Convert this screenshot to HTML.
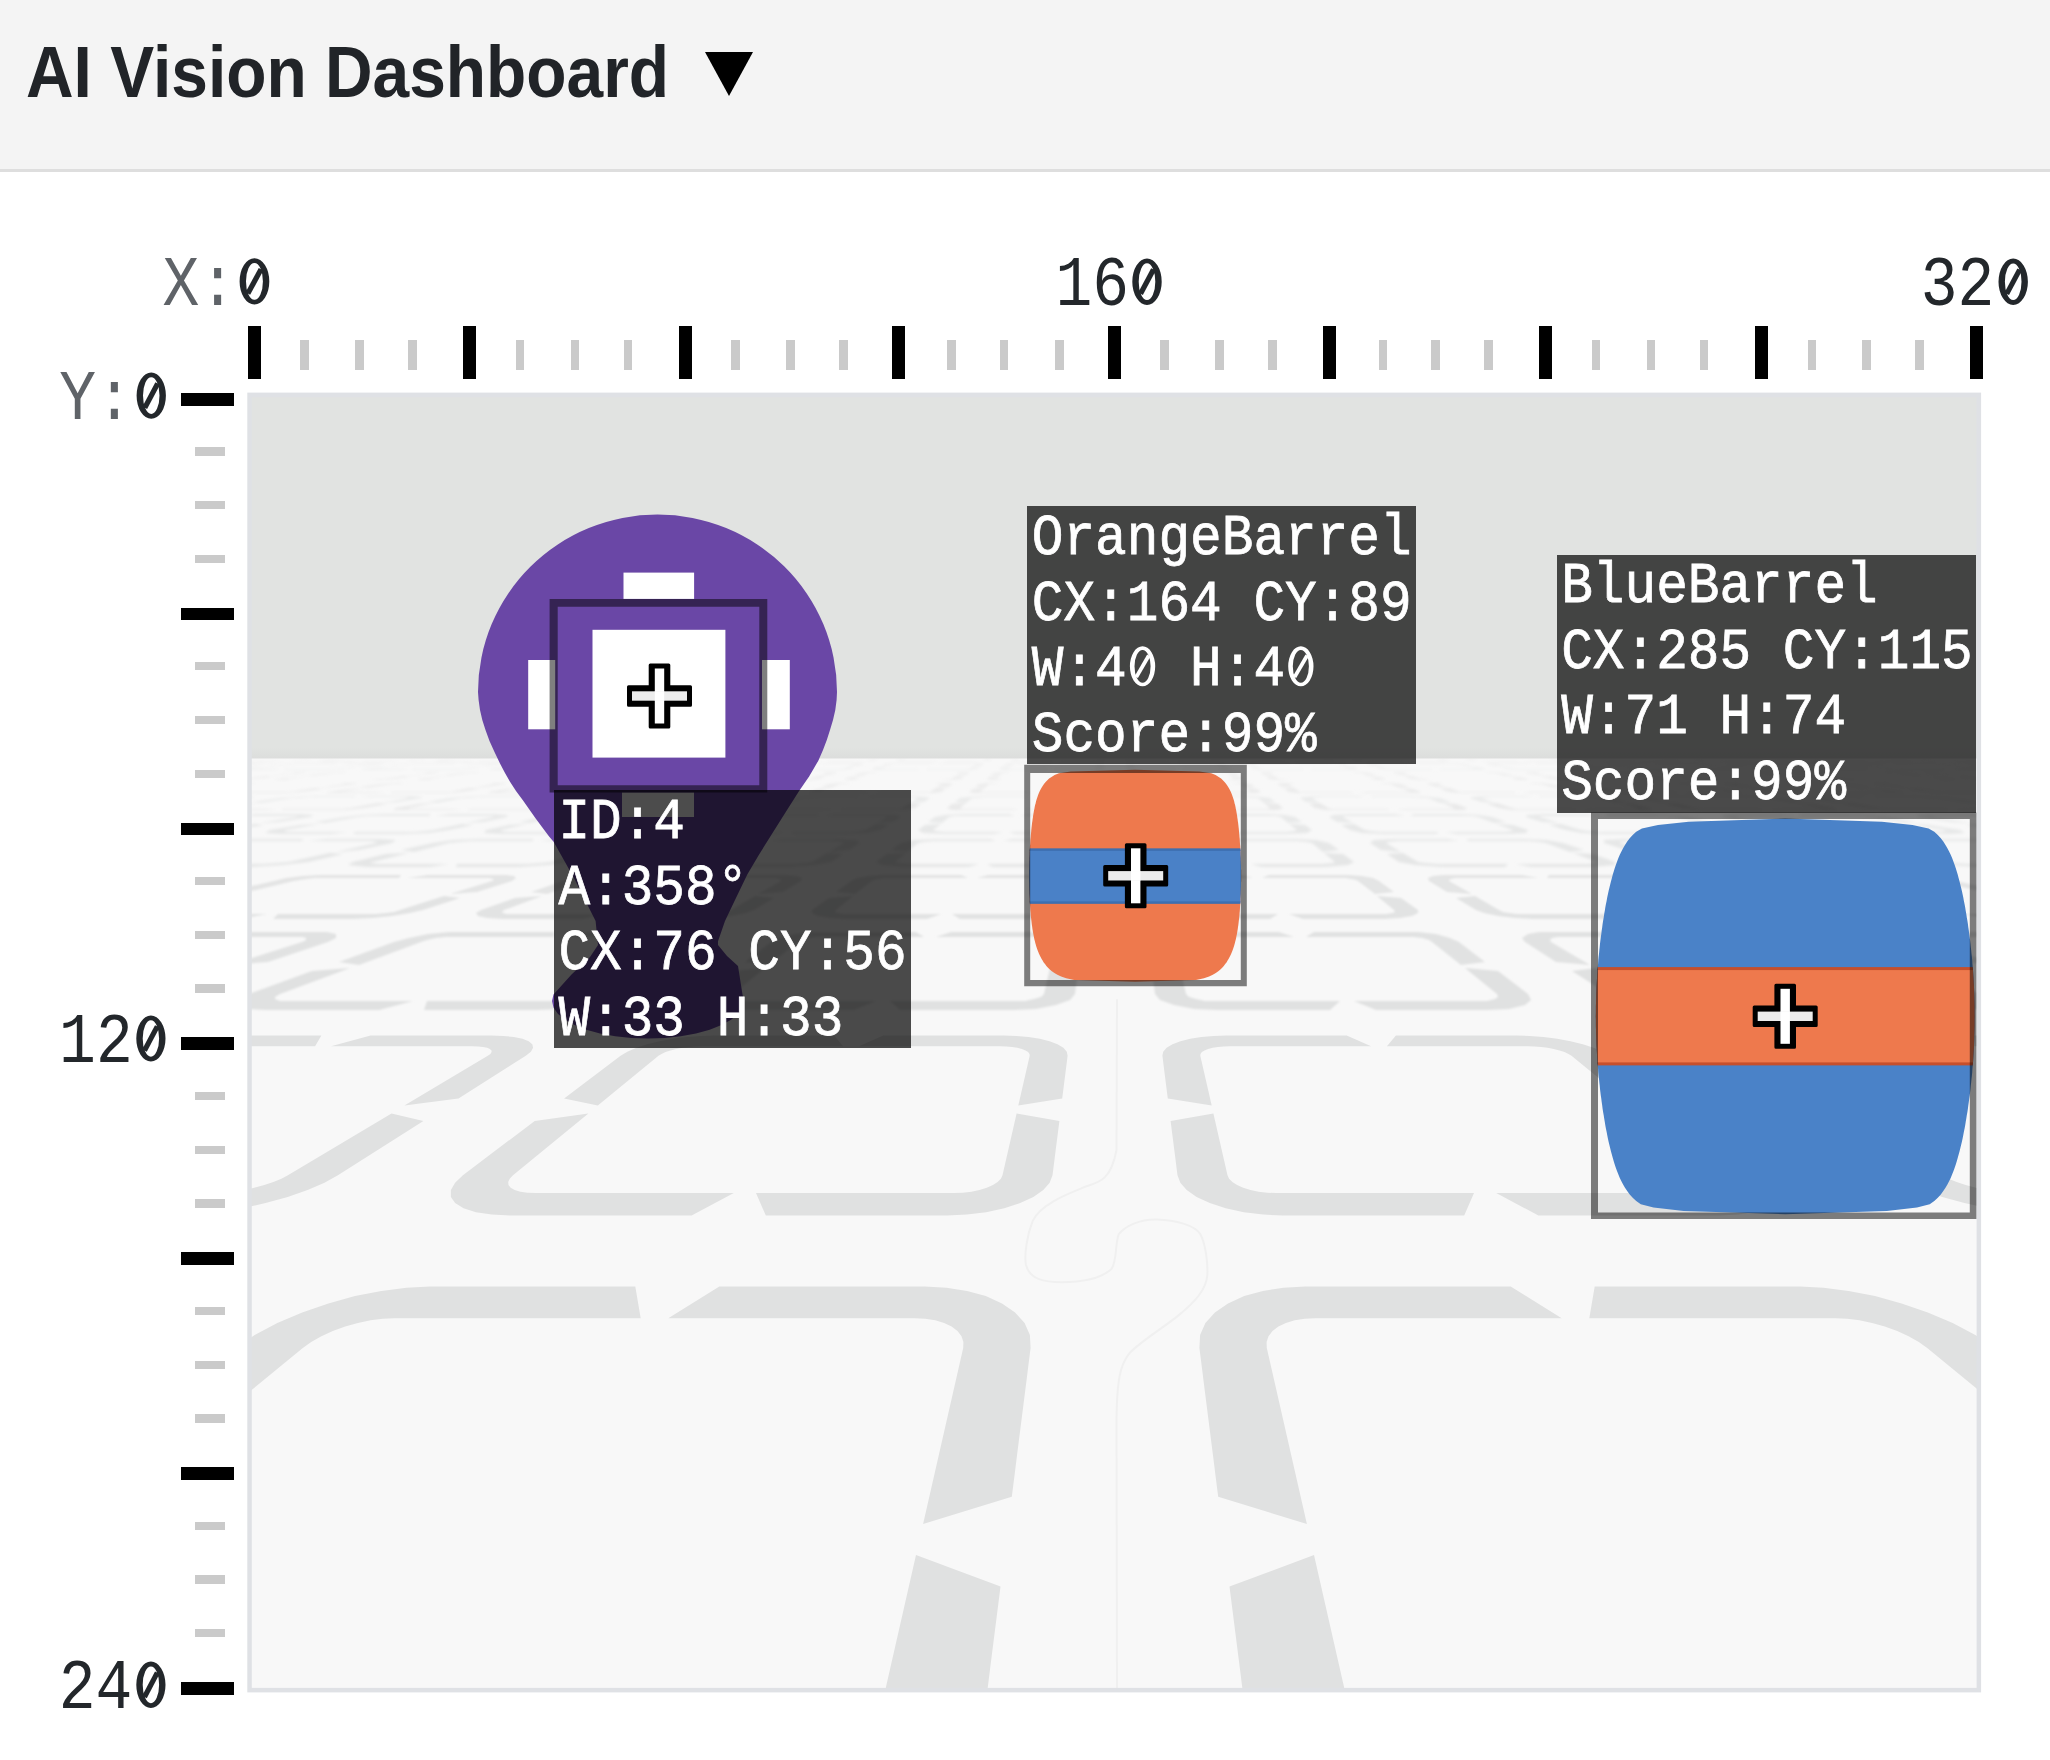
<!DOCTYPE html>
<html><head><meta charset="utf-8">
<style>
html,body{margin:0;padding:0;width:2050px;height:1760px;overflow:hidden;background:#fff;}
*{box-sizing:border-box;}
.hdr{position:absolute;left:0;top:0;width:2050px;height:172px;background:#f4f4f4;border-bottom:3px solid #dedede;}
.title{position:absolute;left:25.5px;top:31px;font:bold 72px "Liberation Sans",sans-serif;color:#212428;white-space:nowrap;transform:scaleX(0.915);transform-origin:0 0;}
.tri{position:absolute;left:705px;top:52px;width:0;height:0;border-left:24px solid transparent;border-right:24px solid transparent;border-top:44px solid #000;}
.ax{position:absolute;font:61.3px/61.3px "Liberation Mono",monospace;color:#23272b;white-space:nowrap;transform:scaleY(1.16);transform-origin:0 0;}
.ax .g{color:#5f6368;}
.z{color:transparent;-webkit-text-stroke:0 transparent;}
.tk{position:absolute;background:#000;}
.ts{position:absolute;background:#cacaca;}
svg.scene{position:absolute;left:0;top:0;}
.lb{position:absolute;background:rgba(0,0,0,0.7);}
.lt{position:absolute;font:52.75px/59.5px "Liberation Mono",monospace;color:#fff;white-space:pre;transform:scaleY(1.1);transform-origin:0 0;-webkit-text-stroke:0.7px #fff;}
</style></head><body>
<div class="hdr"></div>
<div class="title">AI Vision Dashboard</div>
<div class="tri"></div>
<div class="tk" style="left:247.6px;top:326.3px;width:13.1px;height:52.7px"></div>
<div class="tk" style="left:463.1px;top:326.3px;width:13.1px;height:52.7px"></div>
<div class="tk" style="left:678.7px;top:326.3px;width:13.1px;height:52.7px"></div>
<div class="tk" style="left:892.0px;top:326.3px;width:13.1px;height:52.7px"></div>
<div class="tk" style="left:1107.6px;top:326.3px;width:13.1px;height:52.7px"></div>
<div class="tk" style="left:1323.3px;top:326.3px;width:13.1px;height:52.7px"></div>
<div class="tk" style="left:1538.9px;top:326.3px;width:13.1px;height:52.7px"></div>
<div class="tk" style="left:1754.6px;top:326.3px;width:13.1px;height:52.7px"></div>
<div class="tk" style="left:1970.2px;top:326.3px;width:13.1px;height:52.7px"></div>
<div class="ts" style="left:300.2px;top:339.7px;width:8.6px;height:30.4px"></div>
<div class="ts" style="left:355.2px;top:339.7px;width:8.6px;height:30.4px"></div>
<div class="ts" style="left:408.0px;top:339.7px;width:8.6px;height:30.4px"></div>
<div class="ts" style="left:515.7px;top:339.7px;width:8.6px;height:30.4px"></div>
<div class="ts" style="left:570.9px;top:339.7px;width:8.6px;height:30.4px"></div>
<div class="ts" style="left:623.5px;top:339.7px;width:8.6px;height:30.4px"></div>
<div class="ts" style="left:731.3px;top:339.7px;width:8.6px;height:30.4px"></div>
<div class="ts" style="left:786.4px;top:339.7px;width:8.6px;height:30.4px"></div>
<div class="ts" style="left:839.2px;top:339.7px;width:8.6px;height:30.4px"></div>
<div class="ts" style="left:947.2px;top:339.7px;width:8.6px;height:30.4px"></div>
<div class="ts" style="left:999.8px;top:339.7px;width:8.6px;height:30.4px"></div>
<div class="ts" style="left:1055.0px;top:339.7px;width:8.6px;height:30.4px"></div>
<div class="ts" style="left:1160.3px;top:339.7px;width:8.6px;height:30.4px"></div>
<div class="ts" style="left:1215.4px;top:339.7px;width:8.6px;height:30.4px"></div>
<div class="ts" style="left:1268.1px;top:339.7px;width:8.6px;height:30.4px"></div>
<div class="ts" style="left:1378.5px;top:339.7px;width:8.6px;height:30.4px"></div>
<div class="ts" style="left:1431.1px;top:339.7px;width:8.6px;height:30.4px"></div>
<div class="ts" style="left:1484.0px;top:339.7px;width:8.6px;height:30.4px"></div>
<div class="ts" style="left:1591.7px;top:339.7px;width:8.6px;height:30.4px"></div>
<div class="ts" style="left:1646.7px;top:339.7px;width:8.6px;height:30.4px"></div>
<div class="ts" style="left:1699.5px;top:339.7px;width:8.6px;height:30.4px"></div>
<div class="ts" style="left:1807.6px;top:339.7px;width:8.6px;height:30.4px"></div>
<div class="ts" style="left:1862.4px;top:339.7px;width:8.6px;height:30.4px"></div>
<div class="ts" style="left:1915.4px;top:339.7px;width:8.6px;height:30.4px"></div>
<div class="tk" style="left:181.4px;top:392.7px;width:52.8px;height:12.9px"></div>
<div class="ts" style="left:194.6px;top:447.2px;width:30.8px;height:8.4px"></div>
<div class="ts" style="left:194.6px;top:500.9px;width:30.8px;height:8.4px"></div>
<div class="ts" style="left:194.6px;top:554.7px;width:30.8px;height:8.4px"></div>
<div class="tk" style="left:181.4px;top:607.6px;width:52.8px;height:12.9px"></div>
<div class="ts" style="left:194.6px;top:662.1px;width:30.8px;height:8.4px"></div>
<div class="ts" style="left:194.6px;top:715.8px;width:30.8px;height:8.4px"></div>
<div class="ts" style="left:194.6px;top:769.5px;width:30.8px;height:8.4px"></div>
<div class="tk" style="left:181.4px;top:822.5px;width:52.8px;height:12.9px"></div>
<div class="ts" style="left:194.6px;top:877.0px;width:30.8px;height:8.4px"></div>
<div class="ts" style="left:194.6px;top:930.7px;width:30.8px;height:8.4px"></div>
<div class="ts" style="left:194.6px;top:984.4px;width:30.8px;height:8.4px"></div>
<div class="tk" style="left:181.4px;top:1037.3px;width:52.8px;height:12.9px"></div>
<div class="ts" style="left:194.6px;top:1091.9px;width:30.8px;height:8.4px"></div>
<div class="ts" style="left:194.6px;top:1145.6px;width:30.8px;height:8.4px"></div>
<div class="ts" style="left:194.6px;top:1199.3px;width:30.8px;height:8.4px"></div>
<div class="tk" style="left:181.4px;top:1252.2px;width:52.8px;height:12.9px"></div>
<div class="ts" style="left:194.6px;top:1306.7px;width:30.8px;height:8.4px"></div>
<div class="ts" style="left:194.6px;top:1360.5px;width:30.8px;height:8.4px"></div>
<div class="ts" style="left:194.6px;top:1414.2px;width:30.8px;height:8.4px"></div>
<div class="tk" style="left:181.4px;top:1467.1px;width:52.8px;height:12.9px"></div>
<div class="ts" style="left:194.6px;top:1521.6px;width:30.8px;height:8.4px"></div>
<div class="ts" style="left:194.6px;top:1575.3px;width:30.8px;height:8.4px"></div>
<div class="ts" style="left:194.6px;top:1629.1px;width:30.8px;height:8.4px"></div>
<div class="tk" style="left:181.4px;top:1682.0px;width:52.8px;height:12.9px"></div>
<div class="ax" style="left:162.5px;top:249.8px"><span class="g">X:</span><span class="z">0</span></div>
<div class="ax" style="left:1055.4px;top:249.8px">16<span class="z">0</span></div>
<div class="ax" style="left:1920.8px;top:249.8px">32<span class="z">0</span></div>
<div class="ax" style="left:59.3px;top:363.6px"><span class="g">Y:</span><span class="z">0</span></div>
<div class="ax" style="left:59.1px;top:1006.8px">12<span class="z">0</span></div>
<div class="ax" style="left:58.8px;top:1652.9px">24<span class="z">0</span></div>
<svg class="scene" width="2050" height="1760" viewBox="0 0 2050 1760">
<defs>
<filter id="fb1" x="-5%" y="-5%" width="110%" height="110%"><feGaussianBlur stdDeviation="0.9"/></filter>
<filter id="fb2" x="-5%" y="-5%" width="110%" height="110%"><feGaussianBlur stdDeviation="1.4"/></filter>
<linearGradient id="wg" x1="0" y1="0" x2="0" y2="1"><stop offset="0" stop-color="#e1e3e1"/><stop offset="0.97" stop-color="#e1e3e1"/><stop offset="1" stop-color="#dcdddc"/></linearGradient>
<clipPath id="ic"><rect x="250" y="395" width="1728.5" height="1295"/></clipPath>
<clipPath id="ob"><path id="obp" d="M1135.1,769.8 L1199.4,771.6 L1211.3,773.3 L1215.6,775.1 L1218.7,776.9 L1221.1,778.6 L1223.1,780.4 L1224.8,782.2 L1226.2,783.9 L1227.4,785.7 L1228.5,787.5 L1229.5,789.2 L1230.4,791 L1231.2,792.8 L1231.9,794.5 L1232.5,796.3 L1233.1,798.1 L1233.7,799.8 L1234.2,801.6 L1234.6,803.4 L1235.1,805.1 L1235.5,806.9 L1235.8,808.7 L1236.2,810.4 L1236.5,812.2 L1236.8,814 L1237.1,815.7 L1237.3,817.5 L1237.6,819.3 L1237.8,821 L1238.1,822.8 L1238.3,824.6 L1238.5,826.3 L1238.7,828.1 L1238.9,829.9 L1239,831.6 L1239.2,833.4 L1239.4,835.2 L1239.5,836.9 L1239.7,838.7 L1239.8,840.5 L1239.9,842.2 L1240,844 L1240.2,845.8 L1240.3,847.5 L1240.4,849.3 L1240.5,851.1 L1240.6,852.8 L1240.6,854.6 L1240.7,856.4 L1240.8,858.1 L1240.8,859.9 L1240.9,861.7 L1240.9,863.4 L1241,865.2 L1241,867 L1241,868.7 L1241.1,870.5 L1241.1,872.3 L1241.1,874 L1241.1,875.8 L1241.1,877.6 L1241.1,879.3 L1241.1,881.1 L1241,882.9 L1241,884.6 L1241,886.4 L1240.9,888.2 L1240.9,889.9 L1240.8,891.7 L1240.8,893.5 L1240.7,895.2 L1240.6,897 L1240.5,898.8 L1240.5,900.5 L1240.4,902.3 L1240.3,904.1 L1240.1,905.8 L1240,907.6 L1239.9,909.4 L1239.8,911.1 L1239.6,912.9 L1239.5,914.7 L1239.3,916.4 L1239.1,918.2 L1238.9,920 L1238.7,921.7 L1238.5,923.5 L1238.3,925.3 L1238,927 L1237.8,928.8 L1237.5,930.6 L1237.2,932.3 L1236.9,934.1 L1236.5,935.9 L1236.2,937.6 L1235.8,939.4 L1235.3,941.2 L1234.9,942.9 L1234.4,944.7 L1233.9,946.5 L1233.3,948.2 L1232.7,950 L1232,951.8 L1231.3,953.5 L1230.5,955.3 L1229.6,957.1 L1228.7,958.8 L1227.6,960.6 L1226.5,962.4 L1225.2,964.1 L1223.8,965.9 L1222.2,967.7 L1220.4,969.4 L1218.3,971.2 L1215.8,973 L1212.8,974.7 L1209.1,976.5 L1204,978.3 L1196,980 L1135.1,981.8 L1135.1,981.8 L1074.2,980 L1066.2,978.3 L1061.1,976.5 L1057.4,974.7 L1054.4,973 L1051.9,971.2 L1049.8,969.4 L1048,967.7 L1046.4,965.9 L1045,964.1 L1043.7,962.4 L1042.6,960.6 L1041.5,958.8 L1040.6,957.1 L1039.7,955.3 L1038.9,953.5 L1038.2,951.8 L1037.5,950 L1036.9,948.2 L1036.3,946.5 L1035.8,944.7 L1035.3,942.9 L1034.9,941.2 L1034.4,939.4 L1034,937.6 L1033.7,935.9 L1033.3,934.1 L1033,932.3 L1032.7,930.6 L1032.4,928.8 L1032.2,927 L1031.9,925.3 L1031.7,923.5 L1031.5,921.7 L1031.3,920 L1031.1,918.2 L1030.9,916.4 L1030.7,914.7 L1030.6,912.9 L1030.4,911.1 L1030.3,909.4 L1030.2,907.6 L1030.1,905.8 L1029.9,904.1 L1029.8,902.3 L1029.7,900.5 L1029.7,898.8 L1029.6,897 L1029.5,895.2 L1029.4,893.5 L1029.4,891.7 L1029.3,889.9 L1029.3,888.2 L1029.2,886.4 L1029.2,884.6 L1029.2,882.9 L1029.1,881.1 L1029.1,879.3 L1029.1,877.6 L1029.1,875.8 L1029.1,874 L1029.1,872.3 L1029.1,870.5 L1029.2,868.7 L1029.2,867 L1029.2,865.2 L1029.3,863.4 L1029.3,861.7 L1029.4,859.9 L1029.4,858.1 L1029.5,856.4 L1029.6,854.6 L1029.6,852.8 L1029.7,851.1 L1029.8,849.3 L1029.9,847.5 L1030,845.8 L1030.2,844 L1030.3,842.2 L1030.4,840.5 L1030.5,838.7 L1030.7,836.9 L1030.8,835.2 L1031,833.4 L1031.2,831.6 L1031.3,829.9 L1031.5,828.1 L1031.7,826.3 L1031.9,824.6 L1032.1,822.8 L1032.4,821 L1032.6,819.3 L1032.9,817.5 L1033.1,815.7 L1033.4,814 L1033.7,812.2 L1034,810.4 L1034.4,808.7 L1034.7,806.9 L1035.1,805.1 L1035.6,803.4 L1036,801.6 L1036.5,799.8 L1037.1,798.1 L1037.7,796.3 L1038.3,794.5 L1039,792.8 L1039.8,791 L1040.7,789.2 L1041.7,787.5 L1042.8,785.7 L1044,783.9 L1045.4,782.2 L1047.1,780.4 L1049.1,778.6 L1051.5,776.9 L1054.6,775.1 L1058.9,773.3 L1070.8,771.6 L1135.1,769.8Z"/></clipPath>
<clipPath id="bb"><path id="bbp" d="M1785.2,818.5 L1881.9,821.8 L1912.5,825.1 L1928.6,828.4 L1934.3,831.7 L1937.8,835 L1940.8,838.3 L1943.3,841.6 L1945.5,844.9 L1947.4,848.2 L1949.1,851.5 L1950.7,854.8 L1952.1,858.1 L1953.4,861.4 L1954.6,864.7 L1955.7,868 L1956.7,871.3 L1957.7,874.6 L1958.6,877.9 L1959.5,881.2 L1960.3,884.5 L1961.1,887.7 L1961.9,891 L1962.6,894.3 L1963.3,897.6 L1963.9,900.9 L1964.6,904.2 L1965.2,907.5 L1965.7,910.8 L1966.3,914.1 L1966.8,917.4 L1967.4,920.7 L1967.9,924 L1968.3,927.3 L1968.8,930.6 L1969.2,933.9 L1969.7,937.2 L1970.1,940.5 L1970.5,943.8 L1970.8,947.1 L1971.2,950.4 L1971.5,953.7 L1971.9,957 L1972.2,960.3 L1972.4,963.6 L1972.7,966.9 L1973,970.2 L1973.2,973.5 L1973.4,976.8 L1973.6,980.1 L1973.8,983.4 L1974,986.7 L1974.1,990 L1974.2,993.3 L1974.3,996.6 L1974.4,999.9 L1974.5,1003.2 L1974.6,1006.5 L1974.6,1009.8 L1974.6,1013.1 L1974.7,1016.4 L1974.6,1019.6 L1974.6,1022.9 L1974.6,1026.2 L1974.5,1029.5 L1974.4,1032.8 L1974.3,1036.1 L1974.2,1039.4 L1974.1,1042.7 L1974,1046 L1973.8,1049.3 L1973.6,1052.6 L1973.4,1055.9 L1973.2,1059.2 L1973,1062.5 L1972.7,1065.8 L1972.4,1069.1 L1972.2,1072.4 L1971.9,1075.7 L1971.5,1079 L1971.2,1082.3 L1970.8,1085.6 L1970.5,1088.9 L1970.1,1092.2 L1969.7,1095.5 L1969.2,1098.8 L1968.8,1102.1 L1968.3,1105.4 L1967.9,1108.7 L1967.4,1112 L1966.8,1115.3 L1966.3,1118.6 L1965.7,1121.9 L1965.2,1125.2 L1964.6,1128.5 L1963.9,1131.8 L1963.3,1135.1 L1962.6,1138.4 L1961.9,1141.7 L1961.1,1145 L1960.3,1148.2 L1959.5,1151.5 L1958.6,1154.8 L1957.7,1158.1 L1956.7,1161.4 L1955.7,1164.7 L1954.6,1168 L1953.4,1171.3 L1952.1,1174.6 L1950.7,1177.9 L1949.1,1181.2 L1947.4,1184.5 L1945.5,1187.8 L1943.3,1191.1 L1940.8,1194.4 L1937.8,1197.7 L1934.3,1201 L1929.7,1204.3 L1917,1207.6 L1886.8,1210.9 L1785.2,1214.2 L1785.2,1214.2 L1683.7,1210.9 L1653.5,1207.6 L1640.8,1204.3 L1636.2,1201 L1632.7,1197.7 L1629.7,1194.4 L1627.2,1191.1 L1625,1187.8 L1623.1,1184.5 L1621.4,1181.2 L1619.8,1177.9 L1618.4,1174.6 L1617.1,1171.3 L1615.9,1168 L1614.8,1164.7 L1613.8,1161.4 L1612.8,1158.1 L1611.9,1154.8 L1611,1151.5 L1610.2,1148.2 L1609.4,1145 L1608.6,1141.7 L1607.9,1138.4 L1607.2,1135.1 L1606.6,1131.8 L1605.9,1128.5 L1605.3,1125.2 L1604.8,1121.9 L1604.2,1118.6 L1603.7,1115.3 L1603.1,1112 L1602.6,1108.7 L1602.2,1105.4 L1601.7,1102.1 L1601.3,1098.8 L1600.8,1095.5 L1600.4,1092.2 L1600,1088.9 L1599.7,1085.6 L1599.3,1082.3 L1599,1079 L1598.6,1075.7 L1598.3,1072.4 L1598.1,1069.1 L1597.8,1065.8 L1597.5,1062.5 L1597.3,1059.2 L1597.1,1055.9 L1596.9,1052.6 L1596.7,1049.3 L1596.5,1046 L1596.4,1042.7 L1596.3,1039.4 L1596.2,1036.1 L1596.1,1032.8 L1596,1029.5 L1595.9,1026.2 L1595.9,1022.9 L1595.9,1019.6 L1595.8,1016.4 L1595.9,1013.1 L1595.9,1009.8 L1595.9,1006.5 L1596,1003.2 L1596.1,999.9 L1596.2,996.6 L1596.3,993.3 L1596.4,990 L1596.5,986.7 L1596.7,983.4 L1596.9,980.1 L1597.1,976.8 L1597.3,973.5 L1597.5,970.2 L1597.8,966.9 L1598.1,963.6 L1598.3,960.3 L1598.6,957 L1599,953.7 L1599.3,950.4 L1599.7,947.1 L1600,943.8 L1600.4,940.5 L1600.8,937.2 L1601.3,933.9 L1601.7,930.6 L1602.2,927.3 L1602.6,924 L1603.1,920.7 L1603.7,917.4 L1604.2,914.1 L1604.8,910.8 L1605.3,907.5 L1605.9,904.2 L1606.6,900.9 L1607.2,897.6 L1607.9,894.3 L1608.6,891 L1609.4,887.7 L1610.2,884.5 L1611,881.2 L1611.9,877.9 L1612.8,874.6 L1613.8,871.3 L1614.8,868 L1615.9,864.7 L1617.1,861.4 L1618.4,858.1 L1619.8,854.8 L1621.4,851.5 L1623.1,848.2 L1625,844.9 L1627.2,841.6 L1629.7,838.3 L1632.7,835 L1636.2,831.7 L1641.9,828.4 L1658,825.1 L1688.6,821.8 L1785.2,818.5Z"/></clipPath>
</defs>
<g clip-path="url(#ic)">
<rect x="251" y="396" width="1727" height="1293" fill="#f8f8f8"/>
<g fill="#e0e1e1">
<path fill-opacity="1.00" d="M1000.5,1586.5 967.0,1851.6 957.3,1893.6 938.2,1937.0 909.6,1979.9 872.0,2019.9 826.6,2054.6 775.4,2081.7 721.3,2098.8 667.5,2104.7 185.0,2104.7 221.1,1956.2 714.1,1956.2 736.4,1954.0 758.9,1947.6 780.6,1937.3 800.6,1923.7 817.9,1907.5 831.9,1889.5 842.2,1870.6 848.5,1851.6 916.0,1555.1ZM1229.5,1586.5 1263.0,1851.6 1272.7,1893.6 1291.8,1937.0 1320.4,1979.9 1358.0,2019.9 1403.4,2054.6 1454.6,2081.7 1508.7,2098.8 1562.5,2104.7 2045.0,2104.7 2008.9,1956.2 1515.9,1956.2 1493.6,1954.0 1471.1,1947.6 1449.4,1937.3 1429.4,1923.7 1412.1,1907.5 1398.1,1889.5 1387.8,1870.6 1381.5,1851.6 1314.0,1555.1Z"/>
<path fill-opacity="1.00" d="M1011.8,1496.8 1030.6,1348.0 1029.9,1335.0 1024.6,1323.1 1015.1,1312.4 1002.0,1303.4 985.8,1296.1 967.1,1290.9 946.5,1287.7 924.6,1286.6 719.3,1286.6 668.3,1318.2 914.7,1318.2 925.3,1318.7 935.2,1320.3 944.1,1323.0 951.6,1326.6 957.5,1331.1 961.5,1336.2 963.4,1341.9 963.2,1348.0 923.1,1524.1ZM39.1,1496.8 235.3,1348.0 254.7,1335.0 277.3,1323.1 302.2,1312.4 328.4,1303.4 355.0,1296.1 381.3,1290.9 406.6,1287.7 430.0,1286.6 635.3,1286.6 640.7,1318.2 394.3,1318.2 382.9,1318.7 370.6,1320.3 357.9,1323.0 345.2,1326.6 332.8,1331.1 321.4,1336.2 311.2,1341.9 302.8,1348.0 88.4,1524.1ZM2190.9,1496.8 1994.7,1348.0 1975.3,1335.0 1952.7,1323.1 1927.8,1312.4 1901.6,1303.4 1875.0,1296.1 1848.7,1290.9 1823.4,1287.7 1800.0,1286.6 1594.7,1286.6 1589.3,1318.2 1835.7,1318.2 1847.1,1318.7 1859.4,1320.3 1872.1,1323.0 1884.8,1326.6 1897.2,1331.1 1908.6,1336.2 1918.8,1341.9 1927.2,1348.0 2141.6,1524.1ZM1218.2,1496.8 1199.4,1348.0 1200.1,1335.0 1205.4,1323.1 1214.9,1312.4 1228.0,1303.4 1244.2,1296.1 1262.9,1290.9 1283.5,1287.7 1305.4,1286.6 1510.7,1286.6 1561.7,1318.2 1315.3,1318.2 1304.7,1318.7 1294.8,1320.3 1285.9,1323.0 1278.4,1326.6 1272.5,1331.1 1268.5,1336.2 1266.6,1341.9 1266.8,1348.0 1306.9,1524.1Z"/>
<path fill-opacity="1.00" d="M423.4,1120.9 337.9,1175.3 324.5,1182.7 307.6,1190.0 287.7,1196.9 265.6,1203.1 242.1,1208.3 218.3,1212.2 195.4,1214.6 174.4,1215.5 -6.8,1215.5 15.7,1193.1 213.7,1193.1 223.0,1192.7 233.2,1191.7 243.7,1190.0 254.2,1187.8 264.3,1185.0 273.4,1182.0 281.4,1178.7 287.9,1175.3 391.5,1113.4ZM534.7,1120.9 462.9,1175.3 455.1,1182.7 450.9,1190.0 450.9,1196.9 455.1,1203.1 463.5,1208.3 475.9,1212.2 491.8,1214.6 510.4,1215.5 691.6,1215.5 733.8,1193.1 535.8,1193.1 527.5,1192.7 520.4,1191.7 514.7,1190.0 510.7,1187.8 508.5,1185.0 508.2,1182.0 509.7,1178.7 513.0,1175.3 588.4,1113.4ZM1059.4,1120.9 1052.5,1175.3 1049.7,1182.7 1043.3,1190.0 1033.4,1196.9 1020.2,1203.1 1004.3,1208.3 986.2,1212.2 966.8,1214.6 947.0,1215.5 765.8,1215.5 756.0,1193.1 954.0,1193.1 962.8,1192.7 971.4,1191.7 979.5,1190.0 986.8,1187.8 992.9,1185.0 997.6,1182.0 1000.9,1178.7 1002.5,1175.3 1016.6,1113.4ZM1170.6,1120.9 1177.5,1175.3 1180.3,1182.7 1186.7,1190.0 1196.6,1196.9 1209.8,1203.1 1225.7,1208.3 1243.8,1212.2 1263.2,1214.6 1283.0,1215.5 1464.2,1215.5 1474.0,1193.1 1276.0,1193.1 1267.2,1192.7 1258.6,1191.7 1250.5,1190.0 1243.2,1187.8 1237.1,1185.0 1232.4,1182.0 1229.1,1178.7 1227.5,1175.3 1213.4,1113.4ZM1695.3,1120.9 1767.1,1175.3 1774.9,1182.7 1779.1,1190.0 1779.1,1196.9 1774.9,1203.1 1766.5,1208.3 1754.1,1212.2 1738.2,1214.6 1719.6,1215.5 1538.4,1215.5 1496.2,1193.1 1694.2,1193.1 1702.5,1192.7 1709.6,1191.7 1715.3,1190.0 1719.3,1187.8 1721.5,1185.0 1721.8,1182.0 1720.3,1178.7 1717.0,1175.3 1641.6,1113.4ZM1806.6,1120.9 1892.1,1175.3 1905.5,1182.7 1922.4,1190.0 1942.3,1196.9 1964.4,1203.1 1987.9,1208.3 2011.7,1212.2 2034.6,1214.6 2055.6,1215.5 2236.8,1215.5 2214.3,1193.1 2016.3,1193.1 2007.0,1192.7 1996.8,1191.7 1986.3,1190.0 1975.8,1187.8 1965.7,1185.0 1956.6,1182.0 1948.6,1178.7 1942.1,1175.3 1838.5,1113.4Z"/>
<path fill-opacity="1.00" d="M458.5,1098.6 525.8,1055.8 530.9,1051.7 533.1,1047.8 532.3,1044.3 528.7,1041.3 522.5,1038.8 513.9,1037.0 503.2,1035.9 490.9,1035.6 370.6,1035.6 331.0,1046.2 472.2,1046.2 478.1,1046.4 483.1,1046.9 487.1,1047.8 489.9,1048.9 491.5,1050.4 491.6,1052.0 490.4,1053.9 487.8,1055.8 404.4,1105.6ZM-39.6,1098.6 78.7,1055.8 91.5,1051.7 106.1,1047.8 122.0,1044.3 138.7,1041.3 155.5,1038.8 171.8,1037.0 187.2,1035.9 201.2,1035.6 321.4,1035.6 315.1,1046.2 173.9,1046.2 167.3,1046.4 159.9,1046.9 152.2,1047.8 144.2,1048.9 136.4,1050.4 129.1,1052.0 122.4,1053.9 116.7,1055.8 -16.1,1105.6ZM1062.2,1098.6 1067.6,1055.8 1066.8,1051.7 1063.4,1047.8 1057.5,1044.3 1049.6,1041.3 1039.8,1038.8 1028.6,1037.0 1016.4,1035.9 1003.5,1035.6 883.3,1035.6 858.9,1046.2 1000.2,1046.2 1006.3,1046.4 1012.1,1046.9 1017.3,1047.8 1021.9,1048.9 1025.5,1050.4 1028.1,1052.0 1029.5,1053.9 1029.7,1055.8 1018.3,1105.6ZM564.1,1098.6 620.6,1055.8 627.3,1051.7 636.4,1047.8 647.2,1044.3 659.5,1041.3 672.8,1038.8 686.6,1037.0 700.4,1035.9 713.9,1035.6 834.1,1035.6 843.1,1046.2 701.9,1046.2 695.5,1046.4 688.9,1046.9 682.4,1047.8 676.2,1048.9 670.5,1050.4 665.5,1052.0 661.5,1053.9 658.5,1055.8 597.8,1105.6ZM1665.9,1098.6 1609.4,1055.8 1602.7,1051.7 1593.6,1047.8 1582.8,1044.3 1570.5,1041.3 1557.2,1038.8 1543.4,1037.0 1529.6,1035.9 1516.1,1035.6 1395.9,1035.6 1386.9,1046.2 1528.1,1046.2 1534.5,1046.4 1541.1,1046.9 1547.6,1047.8 1553.8,1048.9 1559.5,1050.4 1564.5,1052.0 1568.5,1053.9 1571.5,1055.8 1632.2,1105.6ZM1167.8,1098.6 1162.4,1055.8 1163.2,1051.7 1166.6,1047.8 1172.5,1044.3 1180.4,1041.3 1190.2,1038.8 1201.4,1037.0 1213.6,1035.9 1226.5,1035.6 1346.7,1035.6 1371.1,1046.2 1229.8,1046.2 1223.7,1046.4 1217.9,1046.9 1212.7,1047.8 1208.1,1048.9 1204.5,1050.4 1201.9,1052.0 1200.5,1053.9 1200.3,1055.8 1211.7,1105.6ZM2269.6,1098.6 2151.3,1055.8 2138.5,1051.7 2123.9,1047.8 2108.0,1044.3 2091.3,1041.3 2074.5,1038.8 2058.2,1037.0 2042.8,1035.9 2028.8,1035.6 1908.6,1035.6 1914.9,1046.2 2056.1,1046.2 2062.7,1046.4 2070.1,1046.9 2077.8,1047.8 2085.8,1048.9 2093.6,1050.4 2100.9,1052.0 2107.6,1053.9 2113.3,1055.8 2246.1,1105.6ZM1771.5,1098.6 1704.2,1055.8 1699.1,1051.7 1696.9,1047.8 1697.7,1044.3 1701.3,1041.3 1707.5,1038.8 1716.1,1037.0 1726.8,1035.9 1739.1,1035.6 1859.4,1035.6 1899.0,1046.2 1757.8,1046.2 1751.9,1046.4 1746.9,1046.9 1742.9,1047.8 1740.1,1048.9 1738.5,1050.4 1738.4,1052.0 1739.6,1053.9 1742.2,1055.8 1825.6,1105.6Z"/>
<g filter="url(#fb1)"><path fill-opacity="0.99" d="M312,971 249,994 237,1000 236,1005 247,1009 267,1010 379,1010 413,1001 289,1001 280,1001 275,999 275,997 280,994 350,968ZM658,971 622,994 609,1000 587,1005 562,1009 536,1010 424,1010 427,1001 551,1001 563,1001 574,999 584,997 591,994 634,968ZM732,971 702,994 699,1000 705,1005 721,1009 743,1010 854,1010 876,1001 753,1001 743,1001 735,999 732,997 733,994 765,968ZM1078,971 1075,994 1070,1000 1056,1005 1036,1009 1012,1010 900,1010 890,1001 1014,1001 1025,1001 1034,999 1041,997 1044,994 1050,968ZM1152,971 1155,994 1160,1000 1174,1005 1194,1009 1218,1010 1330,1010 1340,1001 1216,1001 1205,1001 1196,999 1189,997 1186,994 1180,968ZM1498,971 1528,994 1531,1000 1525,1005 1509,1009 1487,1010 1376,1010 1354,1001 1477,1001 1487,1001 1495,999 1498,997 1497,994 1465,968ZM1572,971 1608,994 1621,1000 1643,1005 1668,1009 1694,1010 1806,1010 1803,1001 1679,1001 1667,1001 1656,999 1646,997 1639,994 1596,968ZM1918,971 1981,994 1993,1000 1994,1005 1983,1009 1963,1010 1851,1010 1817,1001 1941,1001 1950,1001 1955,999 1955,997 1950,994 1880,968Z"/>
<path fill-opacity="0.92" d="M268,962 328,942 336,938 336,934 327,932 311,932 226,932 195,937 294,937 302,937 306,938 306,940 302,942 230,965ZM674,962 705,942 708,938 702,934 691,932 674,932 589,932 565,937 664,937 672,937 678,938 680,940 679,942 640,965ZM339,962 394,942 409,938 428,934 449,932 469,932 554,932 554,937 455,937 446,937 436,938 427,940 421,942 359,965ZM1079,962 1082,942 1079,938 1069,934 1054,932 1036,932 951,932 936,937 1035,937 1043,937 1050,938 1054,940 1056,942 1050,965ZM745,962 771,942 780,938 794,934 812,932 831,932 916,932 924,937 825,937 817,937 808,938 801,940 798,942 769,965ZM1485,962 1459,942 1450,938 1436,934 1418,932 1399,932 1314,932 1306,937 1405,937 1413,937 1422,938 1429,940 1432,942 1461,965ZM1151,962 1148,942 1151,938 1161,934 1176,932 1194,932 1279,932 1294,937 1195,937 1187,937 1180,938 1176,940 1174,942 1180,965ZM1891,962 1836,942 1821,938 1802,934 1781,932 1761,932 1676,932 1676,937 1775,937 1784,937 1794,938 1803,940 1809,942 1871,965ZM1556,962 1525,942 1522,938 1528,934 1539,932 1556,932 1641,932 1665,937 1566,937 1558,937 1552,938 1550,940 1551,942 1590,965ZM1962,962 1902,942 1894,938 1894,934 1903,932 1919,932 2004,932 2035,937 1936,937 1928,937 1924,938 1924,940 1928,942 2000,965Z"/>
<path fill-opacity="0.90" d="M202,898 149,910 140,913 138,916 145,918 159,919 240,919 267,914 177,914 171,914 168,913 168,912 173,910 231,896ZM460,898 423,910 410,913 392,916 372,918 353,919 273,919 278,914 368,914 376,914 386,913 394,912 400,910 444,896ZM515,898 481,910 476,913 478,916 487,918 503,919 583,919 604,914 514,914 507,914 503,913 502,912 504,910 542,896ZM774,898 754,910 746,913 732,916 715,918 697,919 616,919 615,914 705,914 713,914 721,913 727,912 731,910 755,896ZM829,898 812,910 812,913 818,916 830,918 846,919 927,919 941,914 851,914 844,914 838,913 835,912 836,910 853,896ZM1088,898 1086,910 1082,913 1072,916 1058,918 1040,919 960,919 952,914 1042,914 1050,914 1056,913 1061,912 1063,910 1066,896ZM1142,898 1144,910 1148,913 1158,916 1172,918 1190,919 1270,919 1278,914 1188,914 1180,914 1174,913 1169,912 1167,910 1164,896ZM1401,898 1418,910 1418,913 1412,916 1400,918 1384,919 1303,919 1289,914 1379,914 1386,914 1392,913 1395,912 1394,910 1377,896ZM1456,898 1476,910 1484,913 1498,916 1515,918 1533,919 1614,919 1615,914 1525,914 1517,914 1509,913 1503,912 1499,910 1475,896ZM1715,898 1749,910 1754,913 1752,916 1743,918 1727,919 1647,919 1626,914 1716,914 1723,914 1727,913 1728,912 1726,910 1688,896ZM1770,898 1807,910 1820,913 1838,916 1858,918 1877,919 1957,919 1952,914 1862,914 1854,914 1844,913 1836,912 1830,910 1786,896ZM2028,898 2081,910 2090,913 2092,916 2085,918 2071,919 1990,919 1963,914 2053,914 2059,914 2062,913 2062,912 2057,910 1999,896Z"/>
<path fill-opacity="0.83" d="M477,892 512,881 516,878 514,876 506,875 493,875 428,875 407,878 483,878 489,878 493,879 494,880 492,881 450,894ZM225,892 274,881 286,878 302,876 319,875 335,875 401,875 399,878 322,878 315,878 307,879 300,880 294,881 239,894ZM783,892 801,881 802,878 797,876 787,875 774,875 708,875 692,878 768,878 774,878 779,879 781,880 781,881 758,894ZM531,892 563,881 572,878 585,876 600,875 615,875 681,875 683,878 607,878 600,878 593,879 587,880 583,881 547,894ZM1088,892 1090,881 1087,878 1079,876 1068,875 1054,875 988,875 977,878 1053,878 1060,878 1065,879 1068,880 1070,881 1066,894ZM836,892 851,881 857,878 868,876 881,875 896,875 961,875 968,878 892,878 885,878 879,879 874,880 872,881 855,894ZM1394,892 1379,881 1373,878 1362,876 1349,875 1334,875 1269,875 1262,878 1338,878 1345,878 1351,879 1356,880 1358,881 1375,894ZM1142,892 1140,881 1143,878 1151,876 1162,875 1176,875 1242,875 1253,878 1177,878 1170,878 1165,879 1162,880 1160,881 1164,894ZM1699,892 1667,881 1658,878 1645,876 1630,875 1615,875 1549,875 1547,878 1623,878 1630,878 1637,879 1643,880 1647,881 1683,894ZM1447,892 1429,881 1428,878 1433,876 1443,875 1456,875 1522,875 1538,878 1462,878 1456,878 1451,879 1449,880 1449,881 1472,894ZM2005,892 1956,881 1944,878 1928,876 1911,875 1895,875 1829,875 1831,878 1908,878 1915,878 1923,879 1930,880 1936,881 1991,894ZM1753,892 1718,881 1714,878 1716,876 1724,875 1737,875 1802,875 1823,878 1747,878 1741,878 1737,879 1736,880 1738,881 1780,894Z"/></g>
<g filter="url(#fb2)"><path fill-opacity="0.81" d="M343,854 308,862 282,865 250,867 187,867 192,864 263,864 277,863 289,862 330,853ZM386,854 353,862 348,865 367,867 430,867 449,864 378,864 370,863 372,862 409,853ZM593,854 569,862 548,865 519,867 456,867 457,864 528,864 541,863 551,862 579,853ZM637,854 615,862 615,865 636,867 699,867 714,864 643,864 633,863 633,862 657,853ZM843,854 831,862 815,865 788,867 725,867 722,864 793,864 805,863 812,862 827,853ZM887,854 876,862 882,865 905,867 968,867 979,864 908,864 897,863 895,862 906,853ZM1093,854 1092,862 1082,865 1057,867 993,867 987,864 1057,864 1069,863 1074,862 1076,853ZM1137,854 1138,862 1148,865 1173,867 1237,867 1243,864 1173,864 1161,863 1156,862 1154,853ZM1343,854 1354,862 1348,865 1325,867 1262,867 1251,864 1322,864 1333,863 1335,862 1324,853ZM1387,854 1399,862 1415,865 1442,867 1505,867 1508,864 1437,864 1425,863 1418,862 1403,853ZM1593,854 1615,862 1615,865 1594,867 1531,867 1516,864 1587,864 1597,863 1597,862 1573,853ZM1637,854 1661,862 1682,865 1711,867 1774,867 1773,864 1702,864 1689,863 1679,862 1651,853ZM1844,854 1877,862 1882,865 1863,867 1800,867 1781,864 1852,864 1860,863 1858,862 1821,853ZM1887,854 1922,862 1948,865 1980,867 2043,867 2038,864 1967,864 1953,863 1941,862 1900,853Z"/>
<path fill-opacity="0.74" d="M359,850 392,843 396,840 380,839 326,839 308,841 370,841 377,842 376,843 336,852ZM156,850 199,843 223,840 251,839 304,839 301,841 239,841 226,842 215,843 167,852ZM604,850 626,843 626,840 608,839 555,839 540,841 602,841 610,842 610,843 583,852ZM401,850 433,843 453,840 479,839 533,839 533,841 471,841 459,842 449,843 414,852ZM849,850 860,843 856,840 837,839 783,839 771,841 833,841 842,842 844,843 829,852ZM646,850 667,843 684,840 708,839 761,839 764,841 702,841 691,842 684,843 660,852ZM1094,850 1095,843 1086,840 1065,839 1012,839 1003,841 1065,841 1074,842 1078,843 1076,852ZM891,850 901,843 914,840 936,839 990,839 996,841 934,841 923,842 918,843 907,852ZM1339,850 1329,843 1316,840 1294,839 1240,839 1234,841 1296,841 1307,842 1312,843 1323,852ZM1136,850 1135,843 1144,840 1165,839 1218,839 1227,841 1165,841 1156,842 1152,843 1154,852ZM1584,850 1563,843 1546,840 1522,839 1469,839 1466,841 1528,841 1539,842 1546,843 1570,852ZM1381,850 1370,843 1374,840 1393,839 1447,839 1459,841 1397,841 1388,842 1386,843 1401,852ZM1829,850 1797,843 1777,840 1751,839 1697,839 1697,841 1759,841 1771,842 1781,843 1816,852ZM1626,850 1604,843 1604,840 1622,839 1675,839 1690,841 1628,841 1620,842 1620,843 1647,852ZM2074,850 2031,843 2007,840 1979,839 1926,839 1929,841 1991,841 2004,842 2015,843 2063,852ZM1871,850 1838,843 1834,840 1850,839 1904,839 1922,841 1860,841 1853,842 1854,843 1894,852Z"/>
<path fill-opacity="0.71" d="M264,825 233,830 210,833 183,834 132,834 137,832 195,832 207,831 218,830 255,824ZM301,825 270,830 265,833 280,834 331,834 348,832 290,832 283,831 286,830 320,824ZM473,825 449,830 429,833 404,834 353,834 355,832 413,832 425,831 433,830 462,824ZM509,825 486,830 484,833 500,834 552,834 566,832 508,832 501,831 501,830 527,824ZM681,825 664,830 649,833 625,834 573,834 573,832 631,832 642,831 649,830 669,824ZM717,825 702,830 704,833 721,834 773,834 785,832 726,832 718,831 717,830 734,824ZM889,825 880,830 868,833 846,834 794,834 791,832 849,832 859,831 865,830 876,824ZM925,825 918,830 923,833 942,834 994,834 1003,832 944,832 936,831 933,830 941,824ZM1097,825 1096,830 1087,833 1067,834 1015,834 1009,832 1068,832 1077,831 1081,830 1082,824ZM1133,825 1134,830 1143,833 1163,834 1215,834 1221,832 1162,832 1153,831 1149,830 1148,824ZM1305,825 1312,830 1307,833 1288,834 1236,834 1227,832 1286,832 1294,831 1297,830 1289,824ZM1341,825 1350,830 1362,833 1384,834 1436,834 1439,832 1381,832 1371,831 1365,830 1354,824ZM1513,825 1528,830 1526,833 1509,834 1457,834 1445,832 1504,832 1512,831 1513,830 1496,824ZM1549,825 1566,830 1581,833 1605,834 1657,834 1657,832 1599,832 1588,831 1581,830 1561,824ZM1721,825 1744,830 1746,833 1730,834 1678,834 1664,832 1722,832 1729,831 1729,830 1703,824ZM1757,825 1781,830 1801,833 1826,834 1877,834 1875,832 1817,832 1805,831 1797,830 1768,824ZM1929,825 1960,830 1965,833 1950,834 1899,834 1882,832 1940,832 1947,831 1944,830 1910,824ZM1966,825 1997,830 2020,833 2047,834 2098,834 2093,832 2035,832 2023,831 2012,830 1975,824Z"/>
<path fill-opacity="0.64" d="M279,822 310,817 314,815 301,814 256,814 240,816 292,816 298,816 296,817 260,823ZM484,822 507,817 508,815 494,814 449,814 435,816 487,816 494,816 493,817 466,823ZM315,822 345,817 363,815 385,814 431,814 429,816 377,816 367,816 358,817 325,823ZM688,822 704,817 703,815 687,814 642,814 630,816 683,816 690,816 690,817 671,823ZM519,822 542,817 557,815 578,814 623,814 624,816 572,816 563,816 555,817 530,823ZM893,822 901,817 897,815 880,814 835,814 825,816 878,816 885,816 887,817 877,823ZM724,822 738,817 751,815 771,814 816,814 820,816 767,816 758,816 752,817 736,823ZM1097,822 1098,817 1091,815 1073,814 1028,814 1020,816 1073,816 1081,816 1084,817 1083,823ZM928,822 935,817 945,815 964,814 1009,814 1015,816 962,816 954,816 949,817 942,823ZM1302,822 1295,817 1285,815 1266,814 1221,814 1215,816 1268,816 1276,816 1281,817 1288,823ZM1133,822 1132,817 1139,815 1157,814 1202,814 1210,816 1157,816 1149,816 1146,817 1147,823ZM1506,822 1492,817 1479,815 1459,814 1414,814 1410,816 1463,816 1472,816 1478,817 1494,823ZM1337,822 1329,817 1333,815 1350,814 1395,814 1405,816 1352,816 1345,816 1343,817 1353,823ZM1711,822 1688,817 1673,815 1652,814 1607,814 1606,816 1658,816 1667,816 1675,817 1700,823ZM1542,822 1526,817 1527,815 1543,814 1588,814 1600,816 1547,816 1540,816 1540,817 1559,823ZM1915,822 1885,817 1867,815 1845,814 1799,814 1801,816 1853,816 1863,816 1872,817 1905,823ZM1746,822 1723,817 1722,815 1736,814 1781,814 1795,816 1743,816 1736,816 1737,817 1764,823ZM1951,822 1920,817 1916,815 1929,814 1974,814 1990,816 1938,816 1932,816 1934,817 1970,823Z"/>
<path fill-opacity="0.62" d="M240,804 212,808 207,810 219,810 263,810 278,809 228,809 223,809 225,808 257,803ZM387,804 364,808 346,810 325,810 281,810 283,809 333,809 343,809 351,808 378,803ZM418,804 396,808 393,810 406,810 450,810 463,809 414,809 408,809 409,808 434,803ZM565,804 548,808 533,810 512,810 468,810 469,809 518,809 528,809 535,808 555,803ZM596,804 580,808 579,810 594,810 637,810 649,809 599,809 593,809 593,808 611,803ZM743,804 731,808 719,810 699,810 655,810 654,809 704,809 713,809 718,808 733,803ZM774,804 763,808 766,810 781,810 825,810 834,809 784,809 777,809 776,808 788,803ZM921,804 915,808 905,810 887,810 843,810 840,809 889,809 898,809 902,808 910,803ZM952,804 947,808 952,810 968,810 1012,810 1019,809 970,809 962,809 960,808 966,803ZM1099,804 1099,808 1092,810 1074,810 1030,810 1025,809 1075,809 1083,809 1086,808 1087,803ZM1131,804 1131,808 1138,810 1156,810 1200,810 1205,809 1155,809 1147,809 1144,808 1143,803ZM1278,804 1283,808 1278,810 1262,810 1218,810 1211,809 1260,809 1268,809 1270,808 1264,803ZM1309,804 1315,808 1325,810 1343,810 1387,810 1390,809 1341,809 1332,809 1328,808 1320,803ZM1456,804 1467,808 1464,810 1449,810 1405,810 1396,809 1446,809 1453,809 1454,808 1442,803ZM1487,804 1499,808 1511,810 1531,810 1575,810 1576,809 1526,809 1517,809 1512,808 1497,803ZM1634,804 1650,808 1651,810 1636,810 1593,810 1581,809 1631,809 1637,809 1637,808 1619,803ZM1665,804 1682,808 1697,810 1718,810 1762,810 1761,809 1712,809 1702,809 1695,808 1675,803ZM1812,804 1834,808 1837,810 1824,810 1780,810 1767,809 1816,809 1822,809 1821,808 1796,803ZM1843,804 1866,808 1884,810 1905,810 1949,810 1947,809 1897,809 1887,809 1879,808 1852,803ZM1990,804 2018,808 2023,810 2011,810 1967,810 1952,809 2002,809 2007,809 2005,808 1973,803Z"/>
<path fill-opacity="0.55" d="M222,802 251,798 255,797 244,796 205,796 191,797 236,797 241,798 239,798 205,803ZM398,802 421,798 423,797 411,796 372,796 359,797 404,797 410,798 409,798 382,803ZM253,802 281,798 297,797 317,796 356,796 354,797 309,797 300,798 292,798 261,803ZM573,802 591,798 591,797 578,796 539,796 528,797 573,797 579,798 579,798 558,803ZM428,802 450,798 465,797 484,796 523,796 523,797 478,797 469,798 462,798 437,803ZM749,802 760,798 758,797 745,796 706,796 696,797 741,797 748,798 749,798 735,803ZM604,802 620,798 633,797 651,796 690,796 691,797 646,797 638,798 632,798 614,803ZM924,802 930,798 926,797 912,796 873,796 865,797 910,797 917,798 918,798 911,803ZM779,802 790,798 801,797 818,796 857,796 860,797 815,797 807,798 802,798 790,803ZM1100,802 1100,798 1094,797 1079,796 1040,796 1033,797 1078,797 1085,798 1088,798 1087,803ZM955,802 960,798 968,797 984,796 1024,796 1028,797 983,797 976,798 972,798 966,803ZM1275,802 1270,798 1262,797 1246,796 1206,796 1202,797 1247,797 1254,798 1258,798 1264,803ZM1130,802 1130,798 1136,797 1151,796 1190,796 1197,797 1152,797 1145,798 1142,798 1143,803ZM1451,802 1440,798 1429,797 1412,796 1373,796 1370,797 1415,797 1423,798 1428,798 1440,803ZM1306,802 1300,798 1304,797 1318,796 1357,796 1365,797 1320,797 1313,798 1312,798 1319,803ZM1626,802 1610,798 1597,797 1579,796 1540,796 1539,797 1584,797 1592,798 1598,798 1616,803ZM1481,802 1470,798 1472,797 1485,796 1524,796 1534,797 1489,797 1482,798 1481,798 1495,803ZM1802,802 1780,798 1765,797 1746,796 1707,796 1707,797 1752,797 1761,798 1768,798 1793,803ZM1657,802 1639,798 1639,797 1652,796 1691,796 1702,797 1657,797 1651,798 1651,798 1672,803ZM1977,802 1949,798 1933,797 1913,796 1874,796 1876,797 1921,797 1930,798 1938,798 1969,803ZM1832,802 1809,798 1807,797 1819,796 1858,796 1871,797 1826,797 1820,798 1821,798 1848,803ZM2008,802 1979,798 1975,797 1986,796 2025,796 2039,797 1994,797 1989,798 1991,798 2025,803Z"/>
<path fill-opacity="0.53" d="M323,789 301,792 285,793 266,793 228,793 230,792 274,792 282,792 290,792 315,788ZM350,789 329,792 326,793 337,793 375,793 387,792 344,792 339,792 340,792 364,788ZM479,789 461,792 447,793 429,793 390,793 392,792 435,792 443,792 450,792 470,788ZM506,789 489,792 488,793 499,793 538,793 548,792 505,792 500,792 500,792 519,788ZM634,789 621,792 609,793 591,793 553,793 553,792 596,792 604,792 610,792 625,788ZM661,789 649,792 650,793 662,793 700,793 709,792 666,792 660,792 660,792 674,788ZM790,789 781,792 771,793 754,793 716,793 714,792 757,792 765,792 770,792 780,788ZM817,789 809,792 811,793 825,793 863,793 871,792 828,792 821,792 820,792 829,788ZM946,789 941,792 933,793 917,793 879,793 876,792 919,792 926,792 930,792 936,788ZM973,789 969,792 973,793 988,793 1026,793 1032,792 989,792 982,792 980,792 984,788ZM1101,789 1101,792 1095,793 1080,793 1041,793 1037,792 1080,792 1087,792 1090,792 1091,788ZM1129,789 1129,792 1135,793 1150,793 1189,793 1193,792 1150,792 1143,792 1140,792 1139,788ZM1257,789 1261,792 1257,793 1242,793 1204,793 1198,792 1241,792 1248,792 1250,792 1246,788ZM1284,789 1289,792 1297,793 1313,793 1351,793 1354,792 1311,792 1304,792 1300,792 1294,788ZM1413,789 1421,792 1419,793 1405,793 1367,793 1359,792 1402,792 1409,792 1410,792 1401,788ZM1440,789 1449,792 1459,793 1476,793 1514,793 1516,792 1473,792 1465,792 1460,792 1450,788ZM1569,789 1581,792 1580,793 1568,793 1530,793 1521,792 1564,792 1570,792 1570,792 1556,788ZM1596,789 1609,792 1621,793 1639,793 1677,793 1677,792 1634,792 1626,792 1620,792 1605,788ZM1724,789 1741,792 1742,793 1731,793 1692,793 1682,792 1725,792 1730,792 1730,792 1711,788ZM1751,789 1769,792 1783,793 1801,793 1840,793 1838,792 1795,792 1787,792 1780,792 1760,788ZM1880,789 1901,792 1904,793 1893,793 1855,793 1843,792 1886,792 1891,792 1890,792 1866,788ZM1907,789 1929,792 1945,793 1964,793 2002,793 2000,792 1956,792 1948,792 1940,792 1915,788Z"/>
<path fill-opacity="0.46" d="M333,787 355,784 358,783 348,783 313,783 302,783 341,783 346,784 345,784 319,788ZM206,787 232,784 247,783 265,783 299,783 297,783 258,783 249,784 242,784 213,788ZM487,787 505,784 506,783 495,783 460,783 450,783 490,783 495,784 494,784 473,788ZM360,787 381,784 395,783 412,783 446,783 446,783 406,783 398,784 392,784 368,788ZM640,787 654,784 653,783 642,783 607,783 598,783 638,783 643,784 643,784 628,788ZM514,787 531,784 543,783 559,783 593,783 594,783 554,783 547,784 541,784 522,788ZM794,787 803,784 801,783 789,783 754,783 747,783 786,783 792,784 793,784 782,788ZM667,787 680,784 690,783 706,783 740,783 742,783 702,783 695,784 690,784 676,788ZM948,787 953,784 949,783 936,783 901,783 895,783 934,783 940,784 942,784 936,788ZM821,787 829,784 838,783 853,783 887,783 890,783 851,783 844,784 840,784 831,788ZM1102,787 1102,784 1096,783 1083,783 1049,783 1043,783 1083,783 1089,784 1091,784 1091,788ZM975,787 979,784 986,783 1000,783 1034,783 1039,783 999,783 992,784 989,784 985,788ZM1255,787 1251,784 1244,783 1230,783 1196,783 1191,783 1231,783 1238,784 1241,784 1245,788ZM1128,787 1128,784 1134,783 1147,783 1181,783 1187,783 1147,783 1141,784 1139,784 1139,788ZM1409,787 1401,784 1392,783 1377,783 1343,783 1340,783 1379,783 1386,784 1390,784 1399,788ZM1282,787 1277,784 1281,783 1294,783 1329,783 1335,783 1296,783 1290,784 1288,784 1294,788ZM1563,787 1550,784 1540,783 1524,783 1490,783 1488,783 1528,783 1535,784 1540,784 1554,788ZM1436,787 1427,784 1429,783 1441,783 1476,783 1483,783 1444,783 1438,784 1437,784 1448,788ZM1716,787 1699,784 1687,783 1671,783 1637,783 1636,783 1676,783 1683,784 1689,784 1708,788ZM1590,787 1576,784 1577,783 1588,783 1623,783 1632,783 1592,783 1587,784 1587,784 1602,788ZM1870,787 1849,784 1835,783 1818,783 1784,783 1784,783 1824,783 1832,784 1838,784 1862,788ZM1743,787 1725,784 1724,783 1735,783 1770,783 1780,783 1740,783 1735,784 1736,784 1757,788ZM2024,787 1998,784 1983,783 1965,783 1931,783 1933,783 1972,783 1981,784 1988,784 2017,788ZM1897,787 1875,784 1872,783 1882,783 1917,783 1928,783 1889,783 1884,784 1885,784 1911,788Z"/>
<path fill-opacity="0.43" d="M273,777 252,779 238,780 221,780 187,780 190,780 228,780 236,779 243,779 267,776ZM297,777 277,779 274,780 283,780 317,780 328,780 290,780 286,779 287,779 310,776ZM411,777 394,779 381,780 365,780 331,780 332,780 371,780 378,779 384,779 404,776ZM436,777 419,779 417,780 427,780 461,780 471,780 433,780 428,779 429,779 448,776ZM550,777 536,779 524,780 508,780 475,780 475,780 513,780 521,779 526,779 542,776ZM574,777 561,779 560,780 571,780 605,780 614,780 575,780 570,779 571,779 586,776ZM688,777 678,779 667,780 652,780 618,780 618,780 656,780 663,779 668,779 680,776ZM712,777 702,779 703,780 715,780 749,780 756,780 718,780 713,779 712,779 723,776ZM826,777 819,779 811,780 796,780 762,780 760,780 799,780 805,779 809,779 818,776ZM850,777 844,779 847,780 859,780 892,780 899,780 861,780 855,779 854,779 861,776ZM965,777 961,779 954,780 940,780 906,780 903,780 941,780 948,779 951,779 956,776ZM989,777 986,779 990,780 1002,780 1036,780 1042,780 1003,780 998,779 996,779 999,776ZM1103,777 1103,779 1097,780 1084,780 1050,780 1046,780 1084,780 1090,779 1093,779 1093,776ZM1127,777 1127,779 1133,780 1146,780 1180,780 1184,780 1146,780 1140,779 1137,779 1137,776ZM1241,777 1244,779 1240,780 1228,780 1194,780 1188,780 1227,780 1232,779 1234,779 1231,776ZM1265,777 1269,779 1276,780 1290,780 1324,780 1327,780 1289,780 1282,779 1279,779 1274,776ZM1380,777 1386,779 1383,780 1371,780 1338,780 1331,780 1369,780 1375,779 1376,779 1369,776ZM1404,777 1411,779 1419,780 1434,780 1468,780 1470,780 1431,780 1425,779 1421,779 1412,776ZM1518,777 1528,779 1527,780 1515,780 1481,780 1474,780 1512,780 1517,779 1518,779 1507,776ZM1542,777 1552,779 1563,780 1578,780 1612,780 1612,780 1574,780 1567,779 1562,779 1550,776ZM1656,777 1669,779 1670,780 1659,780 1625,780 1616,780 1655,780 1660,779 1659,779 1644,776ZM1680,777 1694,779 1706,780 1722,780 1755,780 1755,780 1717,780 1709,779 1704,779 1688,776ZM1794,777 1811,779 1813,780 1803,780 1769,780 1759,780 1797,780 1802,779 1801,779 1782,776ZM1819,777 1836,779 1849,780 1865,780 1899,780 1898,780 1859,780 1852,779 1846,779 1826,776ZM1933,777 1953,779 1956,780 1947,780 1913,780 1902,780 1940,780 1944,779 1943,779 1920,776ZM1957,777 1978,779 1992,780 2009,780 2043,780 2040,780 2002,780 1994,779 1987,779 1963,776Z"/>
<path fill-opacity="0.36" d="M283,775 304,773 307,772 298,772 267,772 256,772 292,772 296,773 294,773 270,776ZM170,775 194,773 208,772 224,772 254,772 252,772 217,772 210,773 203,773 176,776ZM419,775 437,773 439,772 429,772 398,772 389,772 424,772 428,773 428,773 407,776ZM307,775 327,773 340,772 355,772 386,772 385,772 349,772 342,773 336,773 313,776ZM556,775 570,773 571,772 561,772 530,772 521,772 557,772 561,773 561,773 544,776ZM443,775 460,773 472,772 486,772 517,772 517,772 482,772 475,773 470,773 450,776ZM693,775 704,773 703,772 692,772 661,772 654,772 689,772 694,773 694,773 682,776ZM580,775 594,773 604,772 618,772 649,772 650,772 614,772 608,773 603,773 588,776ZM830,775 837,773 835,772 824,772 793,772 786,772 821,772 826,773 827,773 819,776ZM717,775 727,773 736,772 749,772 780,772 782,772 747,772 740,773 736,773 725,776ZM966,775 970,773 966,772 955,772 924,772 918,772 954,772 959,773 961,773 956,776ZM854,775 860,773 868,772 881,772 912,772 914,772 879,772 873,773 869,773 862,776ZM1103,775 1103,773 1098,772 1086,772 1056,772 1051,772 1086,772 1092,773 1094,773 1093,776ZM990,775 993,773 1000,772 1012,772 1043,772 1047,772 1011,772 1006,773 1003,773 999,776ZM1240,775 1237,773 1230,772 1218,772 1187,772 1183,772 1219,772 1224,773 1227,773 1231,776ZM1127,775 1127,773 1132,772 1144,772 1174,772 1179,772 1144,772 1138,773 1136,773 1137,776ZM1376,775 1370,773 1362,772 1349,772 1318,772 1316,772 1351,772 1357,773 1361,773 1368,776ZM1264,775 1260,773 1264,772 1275,772 1306,772 1312,772 1276,772 1271,773 1269,773 1274,776ZM1513,775 1503,773 1494,772 1481,772 1450,772 1448,772 1483,772 1490,773 1494,773 1505,776ZM1400,775 1393,773 1395,772 1406,772 1437,772 1444,772 1409,772 1404,773 1403,773 1411,776ZM1650,775 1636,773 1626,772 1612,772 1581,772 1580,772 1616,772 1622,773 1627,773 1642,776ZM1537,775 1526,773 1527,772 1538,772 1569,772 1576,772 1541,772 1536,773 1536,773 1548,776ZM1787,775 1770,773 1758,772 1744,772 1713,772 1713,772 1748,772 1755,773 1760,773 1780,776ZM1674,775 1660,773 1659,772 1669,772 1700,772 1709,772 1673,772 1669,773 1669,773 1686,776ZM1923,775 1903,773 1890,772 1875,772 1844,772 1845,772 1881,772 1888,773 1894,773 1917,776ZM1811,775 1793,773 1791,772 1801,772 1832,772 1841,772 1806,772 1802,773 1802,773 1823,776ZM2060,775 2036,773 2022,772 2006,772 1976,772 1978,772 2013,772 2020,773 2027,773 2054,776ZM1947,775 1926,773 1923,772 1932,772 1963,772 1974,772 1938,772 1934,773 1936,773 1960,776Z"/>
<path fill-opacity="0.34" d="M255,767 236,769 233,770 241,770 271,770 282,769 247,769 244,769 245,769 267,767ZM358,767 341,769 329,770 314,770 284,770 285,769 320,769 327,769 332,769 352,767ZM380,767 363,769 361,770 370,770 400,770 410,769 375,769 371,769 372,769 391,767ZM482,767 468,769 457,770 443,770 412,770 413,769 448,769 454,769 459,769 476,767ZM504,767 490,769 489,770 499,770 529,770 537,769 503,769 499,769 499,769 515,767ZM607,767 595,769 586,770 572,770 541,770 541,769 575,769 582,769 586,769 600,767ZM628,767 618,769 618,770 628,770 658,770 665,769 631,769 627,769 626,769 639,767ZM731,767 722,769 714,770 700,770 670,770 669,769 703,769 710,769 714,769 724,767ZM753,767 745,769 746,770 756,770 787,770 793,769 759,769 754,769 754,769 763,767ZM855,767 850,769 842,770 829,770 799,770 797,769 831,769 837,769 841,769 848,767ZM877,767 872,769 874,770 885,770 916,770 921,769 887,769 882,769 881,769 887,767ZM980,767 977,769 971,770 958,770 928,770 925,769 959,769 965,769 968,769 972,767ZM1001,767 999,769 1003,770 1014,770 1044,770 1049,769 1015,769 1010,769 1008,769 1011,767ZM1104,767 1104,769 1099,770 1087,770 1057,770 1053,769 1087,769 1093,769 1095,769 1095,767ZM1126,767 1126,769 1131,770 1143,770 1173,770 1177,769 1143,769 1137,769 1135,769 1135,767ZM1229,767 1231,769 1227,770 1216,770 1186,770 1181,769 1215,769 1220,769 1222,769 1219,767ZM1250,767 1253,769 1259,770 1272,770 1302,770 1305,769 1271,769 1265,769 1262,769 1258,767ZM1353,767 1358,769 1356,770 1345,770 1314,770 1309,769 1343,769 1348,769 1349,769 1343,767ZM1375,767 1380,769 1388,770 1401,770 1431,770 1433,769 1399,769 1393,769 1389,769 1382,767ZM1477,767 1485,769 1484,770 1474,770 1443,770 1437,769 1471,769 1476,769 1476,769 1467,767ZM1499,767 1508,769 1516,770 1530,770 1560,770 1561,769 1527,769 1520,769 1516,769 1506,767ZM1602,767 1612,769 1612,770 1602,770 1572,770 1565,769 1599,769 1603,769 1604,769 1591,767ZM1623,767 1635,769 1644,770 1658,770 1689,770 1689,769 1655,769 1648,769 1644,769 1630,767ZM1726,767 1740,769 1741,770 1731,770 1701,770 1693,769 1727,769 1731,769 1731,769 1715,767ZM1748,767 1762,769 1773,770 1787,770 1818,770 1817,769 1782,769 1776,769 1771,769 1754,767ZM1850,767 1867,769 1869,770 1860,770 1830,770 1820,769 1855,769 1859,769 1858,769 1839,767ZM1872,767 1889,769 1901,770 1916,770 1946,770 1945,769 1910,769 1903,769 1898,769 1878,767ZM1975,767 1994,769 1997,770 1989,770 1959,770 1948,769 1983,769 1986,769 1985,769 1963,767Z"/>
<path fill-opacity="0.30" d="M242,766 262,764 265,763 258,763 230,763 220,764 252,764 255,764 254,764 231,766ZM366,766 383,764 385,763 376,763 348,763 339,764 371,764 375,764 374,764 354,766ZM264,766 283,764 295,763 309,763 337,763 336,764 304,764 297,764 292,764 270,766ZM489,766 503,764 504,763 495,763 467,763 459,764 491,764 495,764 495,764 478,766ZM387,766 404,764 415,763 428,763 456,763 455,764 423,764 417,764 412,764 393,766ZM612,766 623,764 623,763 614,763 586,763 579,764 611,764 615,764 615,764 601,766ZM510,766 524,764 534,763 547,763 575,763 575,764 543,764 537,764 532,764 517,766ZM735,766 744,764 742,763 733,763 705,763 698,764 730,764 735,764 735,764 725,766ZM633,766 644,764 653,763 666,763 693,763 695,764 663,764 657,764 653,764 640,766ZM858,766 864,764 862,763 852,763 824,763 818,764 850,764 854,764 855,764 848,766ZM756,766 765,764 772,763 784,763 812,763 814,764 782,764 777,764 773,764 764,766ZM981,766 984,764 981,763 970,763 942,763 937,764 969,764 974,764 976,764 972,766ZM880,766 885,764 891,763 903,763 931,763 934,764 902,764 896,764 893,764 887,766ZM1104,766 1104,764 1100,763 1089,763 1061,763 1057,764 1089,764 1094,764 1096,764 1096,766ZM1003,766 1005,764 1011,763 1022,763 1050,763 1053,764 1021,764 1016,764 1014,764 1011,766ZM1227,766 1225,764 1219,763 1208,763 1180,763 1177,764 1209,764 1214,764 1216,764 1219,766ZM1126,766 1126,764 1130,763 1141,763 1169,763 1173,764 1141,764 1136,764 1134,764 1134,766ZM1350,766 1345,764 1339,763 1327,763 1299,763 1296,764 1328,764 1334,764 1337,764 1343,766ZM1249,766 1246,764 1249,763 1260,763 1288,763 1293,764 1261,764 1256,764 1254,764 1258,766ZM1474,766 1465,764 1458,763 1446,763 1418,763 1416,764 1448,764 1453,764 1457,764 1466,766ZM1372,766 1366,764 1368,763 1378,763 1406,763 1412,764 1380,764 1376,764 1375,764 1382,766ZM1597,766 1586,764 1577,763 1564,763 1537,763 1535,764 1567,764 1573,764 1577,764 1590,766ZM1495,766 1486,764 1488,763 1497,763 1525,763 1532,764 1500,764 1495,764 1495,764 1505,766ZM1720,766 1706,764 1696,763 1683,763 1655,763 1655,764 1687,764 1693,764 1698,764 1713,766ZM1618,766 1607,764 1607,763 1616,763 1644,763 1651,764 1619,764 1615,764 1615,764 1629,766ZM1843,766 1826,764 1815,763 1802,763 1774,763 1775,764 1807,764 1813,764 1818,764 1837,766ZM1741,766 1727,764 1726,763 1735,763 1763,763 1771,764 1739,764 1735,764 1735,764 1752,766ZM1966,766 1947,764 1935,763 1921,763 1893,763 1894,764 1926,764 1933,764 1938,764 1960,766ZM1864,766 1847,764 1845,763 1854,763 1882,763 1891,764 1859,764 1855,764 1856,764 1876,766ZM1988,766 1968,764 1965,763 1972,763 2000,763 2010,764 1978,764 1975,764 1976,764 1999,766Z"/>
<path fill-opacity="0.30" d="M314,759 298,761 286,761 273,762 245,762 247,761 278,761 285,761 290,761 308,759ZM334,759 318,761 316,761 323,762 351,762 360,761 329,761 325,761 326,761 344,759ZM427,759 413,761 403,761 389,762 362,762 363,761 394,761 400,761 405,761 421,759ZM447,759 433,761 432,761 440,762 468,762 476,761 445,761 441,761 441,761 457,759ZM540,759 528,761 519,761 506,762 479,762 479,761 510,761 516,761 520,761 534,759ZM560,759 549,761 548,761 557,762 584,762 592,761 561,761 557,761 557,761 569,759ZM653,759 644,761 635,761 623,762 595,762 595,761 626,761 632,761 636,761 647,759ZM673,759 664,761 664,761 674,762 701,762 707,761 676,761 672,761 672,761 682,759ZM766,759 759,761 752,761 740,762 712,762 711,761 742,761 748,761 751,761 759,759ZM786,759 779,761 781,761 790,762 818,762 823,761 792,761 788,761 787,761 795,759ZM879,759 874,761 868,761 856,762 829,762 827,761 858,761 863,761 866,761 872,759ZM899,759 895,761 897,761 907,762 934,762 939,761 908,761 904,761 903,761 907,759ZM992,759 990,761 984,761 973,762 946,762 943,761 974,761 979,761 982,761 985,759ZM1012,759 1010,761 1013,761 1024,762 1051,762 1055,761 1024,761 1020,761 1018,761 1020,759ZM1105,759 1105,761 1100,761 1090,762 1062,762 1059,761 1090,761 1095,761 1097,761 1097,759ZM1125,759 1125,761 1130,761 1140,762 1168,762 1171,761 1140,761 1135,761 1133,761 1133,759ZM1218,759 1220,761 1217,761 1206,762 1179,762 1175,761 1206,761 1210,761 1212,761 1210,759ZM1238,759 1240,761 1246,761 1257,762 1284,762 1287,761 1256,761 1251,761 1248,761 1245,759ZM1331,759 1335,761 1333,761 1323,762 1296,762 1291,761 1322,761 1326,761 1327,761 1323,759ZM1351,759 1356,761 1362,761 1374,762 1401,762 1403,761 1372,761 1367,761 1364,761 1358,759ZM1444,759 1451,761 1449,761 1440,762 1412,762 1407,761 1438,761 1442,761 1443,761 1435,759ZM1464,759 1471,761 1478,761 1490,762 1518,762 1519,761 1488,761 1482,761 1479,761 1471,759ZM1557,759 1566,761 1566,761 1556,762 1529,762 1523,761 1554,761 1558,761 1558,761 1548,759ZM1577,759 1586,761 1595,761 1607,762 1635,762 1635,761 1604,761 1598,761 1594,761 1583,759ZM1670,759 1681,761 1682,761 1673,762 1646,762 1638,761 1669,761 1673,761 1673,761 1661,759ZM1690,759 1702,761 1711,761 1724,762 1751,762 1751,761 1720,761 1714,761 1710,761 1696,759ZM1783,759 1797,761 1798,761 1790,762 1762,762 1754,761 1785,761 1789,761 1789,761 1773,759ZM1803,759 1817,761 1827,761 1841,762 1868,762 1867,761 1836,761 1830,761 1825,761 1809,759ZM1896,759 1912,761 1914,761 1907,762 1879,762 1870,761 1901,761 1905,761 1904,761 1886,759ZM1916,759 1932,761 1944,761 1957,762 1985,762 1983,761 1952,761 1945,761 1940,761 1922,759Z"/></g>
</g>
<g fill="none" stroke="#f0f0f0" stroke-width="2" stroke-linejoin="round" stroke-linecap="round">
<path d="M1117,1000 L1116.5,1150 C1110,1185 1095,1182 1081.8,1188.2 C1065,1195 1040,1205 1032.7,1220.9 C1027,1235 1024,1255 1026,1265 C1030,1280 1045,1282 1061.4,1282.3 C1080,1282 1100,1280 1111.8,1268.6 C1117,1260 1115,1245 1118.6,1234.5 C1125,1226 1140,1219 1156.8,1219.5 C1175,1220 1195,1225 1200.5,1234.5 C1206,1245 1208,1265 1207.3,1275.5 C1206,1290 1195,1302 1177.3,1316.4 C1160,1330 1140,1342 1129.5,1353.2 C1120,1365 1117,1380 1116.5,1420 L1117,1690"/>
</g>
<rect x="251" y="396" width="1727" height="362.5" fill="url(#wg)"/>
<path d="M478,692 L478.6,700 L480,710 L482.3,720 L485.5,730 L489.5,741 L494.5,752 L500,763.6 L505,773 L510,781.8 L516,791 L522.7,800 L529,809 L535.5,818.2 L542,827 L549.1,836.4 L553.6,841.8 L565,862 L575,880 L585,900 L595.6,920.9 L598,945 L590,957 L571.5,974.6 L553.5,994.5 L552,1001 L553.5,1007.5 L557.8,1013.8 L564.9,1019.8 L574.5,1025.1 L586.3,1029.7 L600,1033.5 L615.2,1036.2 L631.3,1037.9 L648,1038.5 L664.7,1037.9 L680.8,1036.2 L696,1033.5 L709.7,1029.7 L721.5,1025.1 L731.1,1019.8 L738.2,1013.8 L742.5,1007.5 L744,1001 L742.5,994.5 L738,966 L727,956 L718,945 L718,941.3 L725,921 L735,900 L747.3,874.5 L759.1,854.5 L772.7,832.7 L786.4,810.9 L799.1,790.9 L809.1,776.4 L818.2,760.9 L823,750 L826.8,740 L830,730 L833,720 L835.3,710 L836.6,700 L837,692 A179.5,177.5 0 0 0 478,692Z" fill="#6a47a6"/>
<rect x="592.5" y="629.8" width="132.9" height="127.8" fill="#fff"/>
<rect x="623.5" y="572.6" width="70.6" height="26.3" fill="#fff"/>
<rect x="528.2" y="660" width="27" height="69.3" fill="#fff"/>
<rect x="762" y="660" width="27.8" height="69.3" fill="#fff"/>
<rect x="622" y="792.5" width="72" height="24.5" fill="#fff"/>
<path fill="rgba(0,0,0,0.5)" fill-rule="evenodd" d="M549.6,598.9H767.3V792.5H549.6ZM557.7,606.8V785.3H759.3V606.8Z"/>
<g transform="translate(659.5,696)"><path d="M-9.3,-31h18.6v21.7h21.7v18.6h-21.7v21.7h-18.6v-21.7h-21.7v-18.6h21.7z" fill="#000" stroke="#000" stroke-width="3" stroke-linejoin="round"/><rect x="-4.7" y="-27.5" width="9.4" height="55.0" fill="#fff"/><rect x="-27.5" y="-4.7" width="55.0" height="9.4" fill="#ececec"/><rect x="-4.7" y="-4.7" width="9.4" height="9.4" fill="#fff"/></g>
<path d="M1135.1,769.8 L1199.4,771.6 L1211.3,773.3 L1215.6,775.1 L1218.7,776.9 L1221.1,778.6 L1223.1,780.4 L1224.8,782.2 L1226.2,783.9 L1227.4,785.7 L1228.5,787.5 L1229.5,789.2 L1230.4,791 L1231.2,792.8 L1231.9,794.5 L1232.5,796.3 L1233.1,798.1 L1233.7,799.8 L1234.2,801.6 L1234.6,803.4 L1235.1,805.1 L1235.5,806.9 L1235.8,808.7 L1236.2,810.4 L1236.5,812.2 L1236.8,814 L1237.1,815.7 L1237.3,817.5 L1237.6,819.3 L1237.8,821 L1238.1,822.8 L1238.3,824.6 L1238.5,826.3 L1238.7,828.1 L1238.9,829.9 L1239,831.6 L1239.2,833.4 L1239.4,835.2 L1239.5,836.9 L1239.7,838.7 L1239.8,840.5 L1239.9,842.2 L1240,844 L1240.2,845.8 L1240.3,847.5 L1240.4,849.3 L1240.5,851.1 L1240.6,852.8 L1240.6,854.6 L1240.7,856.4 L1240.8,858.1 L1240.8,859.9 L1240.9,861.7 L1240.9,863.4 L1241,865.2 L1241,867 L1241,868.7 L1241.1,870.5 L1241.1,872.3 L1241.1,874 L1241.1,875.8 L1241.1,877.6 L1241.1,879.3 L1241.1,881.1 L1241,882.9 L1241,884.6 L1241,886.4 L1240.9,888.2 L1240.9,889.9 L1240.8,891.7 L1240.8,893.5 L1240.7,895.2 L1240.6,897 L1240.5,898.8 L1240.5,900.5 L1240.4,902.3 L1240.3,904.1 L1240.1,905.8 L1240,907.6 L1239.9,909.4 L1239.8,911.1 L1239.6,912.9 L1239.5,914.7 L1239.3,916.4 L1239.1,918.2 L1238.9,920 L1238.7,921.7 L1238.5,923.5 L1238.3,925.3 L1238,927 L1237.8,928.8 L1237.5,930.6 L1237.2,932.3 L1236.9,934.1 L1236.5,935.9 L1236.2,937.6 L1235.8,939.4 L1235.3,941.2 L1234.9,942.9 L1234.4,944.7 L1233.9,946.5 L1233.3,948.2 L1232.7,950 L1232,951.8 L1231.3,953.5 L1230.5,955.3 L1229.6,957.1 L1228.7,958.8 L1227.6,960.6 L1226.5,962.4 L1225.2,964.1 L1223.8,965.9 L1222.2,967.7 L1220.4,969.4 L1218.3,971.2 L1215.8,973 L1212.8,974.7 L1209.1,976.5 L1204,978.3 L1196,980 L1135.1,981.8 L1135.1,981.8 L1074.2,980 L1066.2,978.3 L1061.1,976.5 L1057.4,974.7 L1054.4,973 L1051.9,971.2 L1049.8,969.4 L1048,967.7 L1046.4,965.9 L1045,964.1 L1043.7,962.4 L1042.6,960.6 L1041.5,958.8 L1040.6,957.1 L1039.7,955.3 L1038.9,953.5 L1038.2,951.8 L1037.5,950 L1036.9,948.2 L1036.3,946.5 L1035.8,944.7 L1035.3,942.9 L1034.9,941.2 L1034.4,939.4 L1034,937.6 L1033.7,935.9 L1033.3,934.1 L1033,932.3 L1032.7,930.6 L1032.4,928.8 L1032.2,927 L1031.9,925.3 L1031.7,923.5 L1031.5,921.7 L1031.3,920 L1031.1,918.2 L1030.9,916.4 L1030.7,914.7 L1030.6,912.9 L1030.4,911.1 L1030.3,909.4 L1030.2,907.6 L1030.1,905.8 L1029.9,904.1 L1029.8,902.3 L1029.7,900.5 L1029.7,898.8 L1029.6,897 L1029.5,895.2 L1029.4,893.5 L1029.4,891.7 L1029.3,889.9 L1029.3,888.2 L1029.2,886.4 L1029.2,884.6 L1029.2,882.9 L1029.1,881.1 L1029.1,879.3 L1029.1,877.6 L1029.1,875.8 L1029.1,874 L1029.1,872.3 L1029.1,870.5 L1029.2,868.7 L1029.2,867 L1029.2,865.2 L1029.3,863.4 L1029.3,861.7 L1029.4,859.9 L1029.4,858.1 L1029.5,856.4 L1029.6,854.6 L1029.6,852.8 L1029.7,851.1 L1029.8,849.3 L1029.9,847.5 L1030,845.8 L1030.2,844 L1030.3,842.2 L1030.4,840.5 L1030.5,838.7 L1030.7,836.9 L1030.8,835.2 L1031,833.4 L1031.2,831.6 L1031.3,829.9 L1031.5,828.1 L1031.7,826.3 L1031.9,824.6 L1032.1,822.8 L1032.4,821 L1032.6,819.3 L1032.9,817.5 L1033.1,815.7 L1033.4,814 L1033.7,812.2 L1034,810.4 L1034.4,808.7 L1034.7,806.9 L1035.1,805.1 L1035.6,803.4 L1036,801.6 L1036.5,799.8 L1037.1,798.1 L1037.7,796.3 L1038.3,794.5 L1039,792.8 L1039.8,791 L1040.7,789.2 L1041.7,787.5 L1042.8,785.7 L1044,783.9 L1045.4,782.2 L1047.1,780.4 L1049.1,778.6 L1051.5,776.9 L1054.6,775.1 L1058.9,773.3 L1070.8,771.6 L1135.1,769.8Z" fill="#ee794d"/>
<g clip-path="url(#ob)"><rect x="1020" y="849.6" width="230" height="53" fill="#4a81c7" stroke="#3e6fb0" stroke-width="2.5"/></g>
<path fill="rgba(0,0,0,0.5)" fill-rule="evenodd" d="M1024.2,764.8H1246.8V986.2H1024.2ZM1030.2,773V980H1240.8V773Z"/>
<g transform="translate(1135.7,875.8)"><path d="M-9.3,-31h18.6v21.7h21.7v18.6h-21.7v21.7h-18.6v-21.7h-21.7v-18.6h21.7z" fill="#000" stroke="#000" stroke-width="3" stroke-linejoin="round"/><rect x="-4.7" y="-27.5" width="9.4" height="55.0" fill="#fff"/><rect x="-27.5" y="-4.7" width="55.0" height="9.4" fill="#ececec"/><rect x="-4.7" y="-4.7" width="9.4" height="9.4" fill="#fff"/></g>
<path d="M1785.2,818.5 L1881.9,821.8 L1912.5,825.1 L1928.6,828.4 L1934.3,831.7 L1937.8,835 L1940.8,838.3 L1943.3,841.6 L1945.5,844.9 L1947.4,848.2 L1949.1,851.5 L1950.7,854.8 L1952.1,858.1 L1953.4,861.4 L1954.6,864.7 L1955.7,868 L1956.7,871.3 L1957.7,874.6 L1958.6,877.9 L1959.5,881.2 L1960.3,884.5 L1961.1,887.7 L1961.9,891 L1962.6,894.3 L1963.3,897.6 L1963.9,900.9 L1964.6,904.2 L1965.2,907.5 L1965.7,910.8 L1966.3,914.1 L1966.8,917.4 L1967.4,920.7 L1967.9,924 L1968.3,927.3 L1968.8,930.6 L1969.2,933.9 L1969.7,937.2 L1970.1,940.5 L1970.5,943.8 L1970.8,947.1 L1971.2,950.4 L1971.5,953.7 L1971.9,957 L1972.2,960.3 L1972.4,963.6 L1972.7,966.9 L1973,970.2 L1973.2,973.5 L1973.4,976.8 L1973.6,980.1 L1973.8,983.4 L1974,986.7 L1974.1,990 L1974.2,993.3 L1974.3,996.6 L1974.4,999.9 L1974.5,1003.2 L1974.6,1006.5 L1974.6,1009.8 L1974.6,1013.1 L1974.7,1016.4 L1974.6,1019.6 L1974.6,1022.9 L1974.6,1026.2 L1974.5,1029.5 L1974.4,1032.8 L1974.3,1036.1 L1974.2,1039.4 L1974.1,1042.7 L1974,1046 L1973.8,1049.3 L1973.6,1052.6 L1973.4,1055.9 L1973.2,1059.2 L1973,1062.5 L1972.7,1065.8 L1972.4,1069.1 L1972.2,1072.4 L1971.9,1075.7 L1971.5,1079 L1971.2,1082.3 L1970.8,1085.6 L1970.5,1088.9 L1970.1,1092.2 L1969.7,1095.5 L1969.2,1098.8 L1968.8,1102.1 L1968.3,1105.4 L1967.9,1108.7 L1967.4,1112 L1966.8,1115.3 L1966.3,1118.6 L1965.7,1121.9 L1965.2,1125.2 L1964.6,1128.5 L1963.9,1131.8 L1963.3,1135.1 L1962.6,1138.4 L1961.9,1141.7 L1961.1,1145 L1960.3,1148.2 L1959.5,1151.5 L1958.6,1154.8 L1957.7,1158.1 L1956.7,1161.4 L1955.7,1164.7 L1954.6,1168 L1953.4,1171.3 L1952.1,1174.6 L1950.7,1177.9 L1949.1,1181.2 L1947.4,1184.5 L1945.5,1187.8 L1943.3,1191.1 L1940.8,1194.4 L1937.8,1197.7 L1934.3,1201 L1929.7,1204.3 L1917,1207.6 L1886.8,1210.9 L1785.2,1214.2 L1785.2,1214.2 L1683.7,1210.9 L1653.5,1207.6 L1640.8,1204.3 L1636.2,1201 L1632.7,1197.7 L1629.7,1194.4 L1627.2,1191.1 L1625,1187.8 L1623.1,1184.5 L1621.4,1181.2 L1619.8,1177.9 L1618.4,1174.6 L1617.1,1171.3 L1615.9,1168 L1614.8,1164.7 L1613.8,1161.4 L1612.8,1158.1 L1611.9,1154.8 L1611,1151.5 L1610.2,1148.2 L1609.4,1145 L1608.6,1141.7 L1607.9,1138.4 L1607.2,1135.1 L1606.6,1131.8 L1605.9,1128.5 L1605.3,1125.2 L1604.8,1121.9 L1604.2,1118.6 L1603.7,1115.3 L1603.1,1112 L1602.6,1108.7 L1602.2,1105.4 L1601.7,1102.1 L1601.3,1098.8 L1600.8,1095.5 L1600.4,1092.2 L1600,1088.9 L1599.7,1085.6 L1599.3,1082.3 L1599,1079 L1598.6,1075.7 L1598.3,1072.4 L1598.1,1069.1 L1597.8,1065.8 L1597.5,1062.5 L1597.3,1059.2 L1597.1,1055.9 L1596.9,1052.6 L1596.7,1049.3 L1596.5,1046 L1596.4,1042.7 L1596.3,1039.4 L1596.2,1036.1 L1596.1,1032.8 L1596,1029.5 L1595.9,1026.2 L1595.9,1022.9 L1595.9,1019.6 L1595.8,1016.4 L1595.9,1013.1 L1595.9,1009.8 L1595.9,1006.5 L1596,1003.2 L1596.1,999.9 L1596.2,996.6 L1596.3,993.3 L1596.4,990 L1596.5,986.7 L1596.7,983.4 L1596.9,980.1 L1597.1,976.8 L1597.3,973.5 L1597.5,970.2 L1597.8,966.9 L1598.1,963.6 L1598.3,960.3 L1598.6,957 L1599,953.7 L1599.3,950.4 L1599.7,947.1 L1600,943.8 L1600.4,940.5 L1600.8,937.2 L1601.3,933.9 L1601.7,930.6 L1602.2,927.3 L1602.6,924 L1603.1,920.7 L1603.7,917.4 L1604.2,914.1 L1604.8,910.8 L1605.3,907.5 L1605.9,904.2 L1606.6,900.9 L1607.2,897.6 L1607.9,894.3 L1608.6,891 L1609.4,887.7 L1610.2,884.5 L1611,881.2 L1611.9,877.9 L1612.8,874.6 L1613.8,871.3 L1614.8,868 L1615.9,864.7 L1617.1,861.4 L1618.4,858.1 L1619.8,854.8 L1621.4,851.5 L1623.1,848.2 L1625,844.9 L1627.2,841.6 L1629.7,838.3 L1632.7,835 L1636.2,831.7 L1641.9,828.4 L1658,825.1 L1688.6,821.8 L1785.2,818.5Z" fill="#4a82c8"/>
<g clip-path="url(#bb)"><rect x="1580" y="968.6" width="410" height="95.3" fill="#ee794d" stroke="#c64f2c" stroke-width="3"/></g>
<path fill="rgba(0,0,0,0.5)" fill-rule="evenodd" d="M1591,812.6H1976.6V1219H1591ZM1598,819.1V1212.5H1969.8V819.1Z"/>
<g transform="translate(1785.2,1016.3)"><path d="M-9.3,-31h18.6v21.7h21.7v18.6h-21.7v21.7h-18.6v-21.7h-21.7v-18.6h21.7z" fill="#000" stroke="#000" stroke-width="3" stroke-linejoin="round"/><rect x="-4.7" y="-27.5" width="9.4" height="55.0" fill="#fff"/><rect x="-27.5" y="-4.7" width="55.0" height="9.4" fill="#ececec"/><rect x="-4.7" y="-4.7" width="9.4" height="9.4" fill="#fff"/></g>
</g>
<rect x="249.55" y="394.85" width="1729.3" height="1295.3" fill="none" stroke="#dfe1e5" stroke-width="4.5"/>
</svg>
<div class="lb" style="left:553.9px;top:790.2px;width:356.8px;height:257.6px"></div>
<div class="lt" style="left:558.4px;top:790.5px">ID:4
A:358°
CX:76 CY:56
W:33 H:33</div>
<div class="lb" style="left:1027.3px;top:506.3px;width:388.5px;height:257.6px"></div>
<div class="lt" style="left:1031.8px;top:506.6px">OrangeBarrel
CX:164 CY:89
W:4<span class="z">0</span> H:4<span class="z">0</span>
Score:99%</div>
<div class="lb" style="left:1556.7px;top:555px;width:419.5px;height:257.6px"></div>
<div class="lt" style="left:1561.2px;top:555.3px">BlueBarrel
CX:285 CY:115
W:71 H:74
Score:99%</div>
<svg class="scene" width="2050" height="1760" viewBox="0 0 2050 1760" style="pointer-events:none">
<path d="M239.6,281.4a14.85,23.2 0 1,0 29.7,0a14.85,23.2 0 1,0 -29.7,0ZM246,281.4a8.45,18.4 0 1,0 16.9,0a8.45,18.4 0 1,0 -16.9,0Z" fill="#23272b" fill-rule="evenodd"/><line x1="247.86" y1="293.54" x2="261.04" y2="269.26" stroke="#23272b" stroke-width="5.2"/>
<path d="M1132.3,281.7a14.7,23.2 0 1,0 29.4,0a14.7,23.2 0 1,0 -29.4,0ZM1138.7,281.7a8.3,18.4 0 1,0 16.6,0a8.3,18.4 0 1,0 -16.6,0Z" fill="#23272b" fill-rule="evenodd"/><line x1="1140.53" y1="293.84" x2="1153.47" y2="269.56" stroke="#23272b" stroke-width="5.2"/>
<path d="M1998.5,281.75a14.7,23.15 0 1,0 29.4,0a14.7,23.15 0 1,0 -29.4,0ZM2004.9,281.75a8.3,18.35 0 1,0 16.6,0a8.3,18.35 0 1,0 -16.6,0Z" fill="#23272b" fill-rule="evenodd"/><line x1="2006.73" y1="293.86" x2="2019.67" y2="269.64" stroke="#23272b" stroke-width="5.2"/>
<path d="M136.6,395.6a14.65,23.2 0 1,0 29.3,0a14.65,23.2 0 1,0 -29.3,0ZM143,395.6a8.25,18.4 0 1,0 16.5,0a8.25,18.4 0 1,0 -16.5,0Z" fill="#23272b" fill-rule="evenodd"/><line x1="144.81" y1="407.74" x2="157.69" y2="383.46" stroke="#23272b" stroke-width="5.2"/>
<path d="M136.3,1038.45a14.6,23.05 0 1,0 29.2,0a14.6,23.05 0 1,0 -29.2,0ZM142.7,1038.45a8.2,18.25 0 1,0 16.4,0a8.2,18.25 0 1,0 -16.4,0Z" fill="#23272b" fill-rule="evenodd"/><line x1="144.5" y1="1050.5" x2="157.3" y2="1026.4" stroke="#23272b" stroke-width="5.2"/>
<path d="M136.3,1684.8a14.6,23.2 0 1,0 29.2,0a14.6,23.2 0 1,0 -29.2,0ZM142.7,1684.8a8.2,18.4 0 1,0 16.4,0a8.2,18.4 0 1,0 -16.4,0Z" fill="#23272b" fill-rule="evenodd"/><line x1="144.5" y1="1696.94" x2="157.3" y2="1672.66" stroke="#23272b" stroke-width="5.2"/>
<path d="M1129.9,666.3a12.65,20 0 1,0 25.3,0a12.65,20 0 1,0 -25.3,0ZM1134.5,666.3a8.05,16.4 0 1,0 16.1,0a8.05,16.4 0 1,0 -16.1,0Z" fill="#fff" fill-rule="evenodd"/><line x1="1136.27" y1="677.12" x2="1148.83" y2="655.48" stroke="#fff" stroke-width="3.8"/>
<path d="M1288.2,666.3a12.65,20 0 1,0 25.3,0a12.65,20 0 1,0 -25.3,0ZM1292.8,666.3a8.05,16.4 0 1,0 16.1,0a8.05,16.4 0 1,0 -16.1,0Z" fill="#fff" fill-rule="evenodd"/><line x1="1294.57" y1="677.12" x2="1307.13" y2="655.48" stroke="#fff" stroke-width="3.8"/>
</svg>
</body></html>
